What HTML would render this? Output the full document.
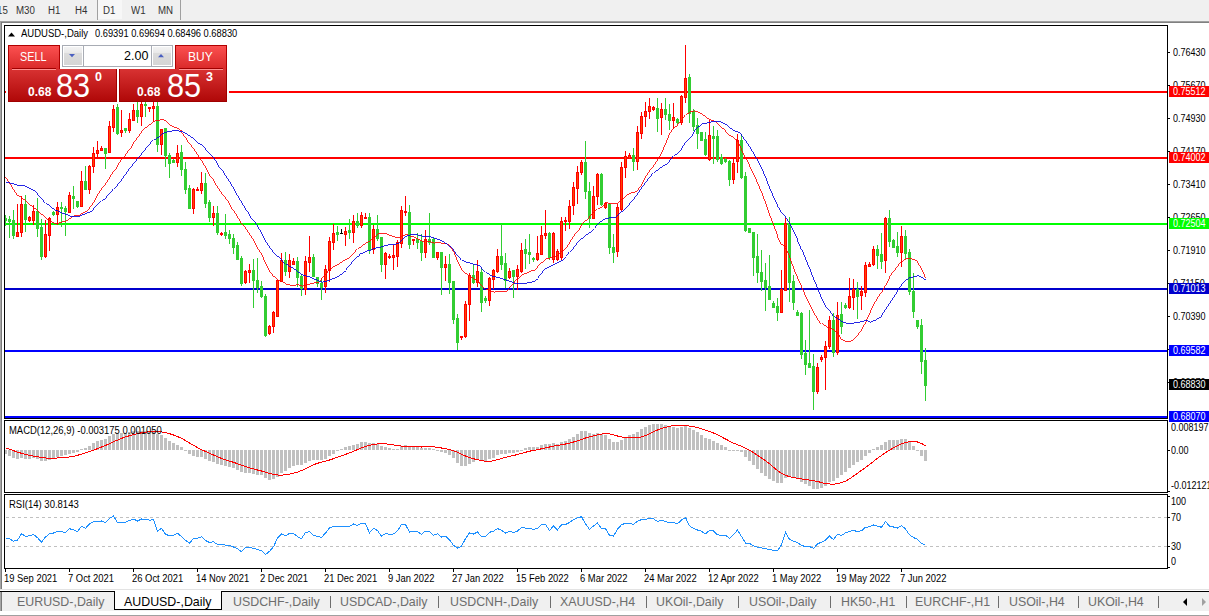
<!DOCTYPE html>
<html><head><meta charset="utf-8"><style>
*{margin:0;padding:0;box-sizing:border-box}
html,body{width:1209px;height:616px;overflow:hidden;background:#fff;font-family:"Liberation Sans",sans-serif}
.a{position:absolute;white-space:nowrap}
</style></head><body>
<div class="a" style="left:0;top:0;width:1209px;height:21px;background:#f0f0f0"></div>
<div class="a" style="left:98px;top:0;width:24px;height:19px;background:#f7f7f7"></div>
<div class="a" style="left:97px;top:0;width:1px;height:20px;background:#a0a0a0"></div>
<div class="a" style="left:180px;top:0;width:1px;height:20px;background:#a0a0a0"></div>
<div class="a" style="left:0;top:21px;width:1209px;height:1px;background:#a0a0a0"></div>
<div class="a" style="left:0;top:22px;width:1209px;height:1px;background:#808080"></div>
<div class="a" style="left:-3px;top:6px;font-size:10px;line-height:10px;color:#333;font-weight:normal;transform:scaleX(0.97);transform-origin:0 0;">15</div><div class="a" style="left:16px;top:6px;font-size:10px;line-height:10px;color:#333;font-weight:normal;transform:scaleX(0.97);transform-origin:0 0;">M30</div><div class="a" style="left:48px;top:6px;font-size:10px;line-height:10px;color:#333;font-weight:normal;transform:scaleX(0.97);transform-origin:0 0;">H1</div><div class="a" style="left:75px;top:6px;font-size:10px;line-height:10px;color:#333;font-weight:normal;transform:scaleX(0.97);transform-origin:0 0;">H4</div><div class="a" style="left:103px;top:6px;font-size:10px;line-height:10px;color:#333;font-weight:normal;transform:scaleX(0.97);transform-origin:0 0;">D1</div><div class="a" style="left:131px;top:6px;font-size:10px;line-height:10px;color:#333;font-weight:normal;transform:scaleX(0.97);transform-origin:0 0;">W1</div><div class="a" style="left:158px;top:6px;font-size:10px;line-height:10px;color:#333;font-weight:normal;transform:scaleX(0.97);transform-origin:0 0;">MN</div>
<div class="a" style="left:0;top:22px;width:1px;height:567px;background:#a6a6a6"></div><div class="a" style="left:1px;top:22px;width:1px;height:567px;background:#7a7a7a"></div>
<svg class="a" style="left:0;top:0" width="1209" height="616" shape-rendering="crispEdges">
<rect x="4" y="25" width="1164" height="1" fill="#000"/><rect x="4" y="418" width="1164" height="1" fill="#000"/><rect x="4" y="25" width="1" height="394" fill="#000"/><rect x="1167" y="25" width="1" height="394" fill="#000"/><rect x="4" y="420" width="1164" height="1" fill="#000"/><rect x="4" y="492" width="1164" height="1" fill="#000"/><rect x="4" y="420" width="1" height="73" fill="#000"/><rect x="1167" y="420" width="1" height="73" fill="#000"/><rect x="4" y="494" width="1164" height="1" fill="#000"/><rect x="4" y="568" width="1164" height="1" fill="#000"/><rect x="4" y="494" width="1" height="75" fill="#000"/><rect x="1167" y="494" width="1" height="75" fill="#000"/>
<g fill="#c0c0c0"><rect x="6" y="517" width="3" height="1"/><rect x="12" y="517" width="3" height="1"/><rect x="18" y="517" width="3" height="1"/><rect x="24" y="517" width="3" height="1"/><rect x="30" y="517" width="3" height="1"/><rect x="36" y="517" width="3" height="1"/><rect x="42" y="517" width="3" height="1"/><rect x="48" y="517" width="3" height="1"/><rect x="54" y="517" width="3" height="1"/><rect x="60" y="517" width="3" height="1"/><rect x="66" y="517" width="3" height="1"/><rect x="72" y="517" width="3" height="1"/><rect x="78" y="517" width="3" height="1"/><rect x="84" y="517" width="3" height="1"/><rect x="90" y="517" width="3" height="1"/><rect x="96" y="517" width="3" height="1"/><rect x="102" y="517" width="3" height="1"/><rect x="108" y="517" width="3" height="1"/><rect x="114" y="517" width="3" height="1"/><rect x="120" y="517" width="3" height="1"/><rect x="126" y="517" width="3" height="1"/><rect x="132" y="517" width="3" height="1"/><rect x="138" y="517" width="3" height="1"/><rect x="144" y="517" width="3" height="1"/><rect x="150" y="517" width="3" height="1"/><rect x="156" y="517" width="3" height="1"/><rect x="162" y="517" width="3" height="1"/><rect x="168" y="517" width="3" height="1"/><rect x="174" y="517" width="3" height="1"/><rect x="180" y="517" width="3" height="1"/><rect x="186" y="517" width="3" height="1"/><rect x="192" y="517" width="3" height="1"/><rect x="198" y="517" width="3" height="1"/><rect x="204" y="517" width="3" height="1"/><rect x="210" y="517" width="3" height="1"/><rect x="216" y="517" width="3" height="1"/><rect x="222" y="517" width="3" height="1"/><rect x="228" y="517" width="3" height="1"/><rect x="234" y="517" width="3" height="1"/><rect x="240" y="517" width="3" height="1"/><rect x="246" y="517" width="3" height="1"/><rect x="252" y="517" width="3" height="1"/><rect x="258" y="517" width="3" height="1"/><rect x="264" y="517" width="3" height="1"/><rect x="270" y="517" width="3" height="1"/><rect x="276" y="517" width="3" height="1"/><rect x="282" y="517" width="3" height="1"/><rect x="288" y="517" width="3" height="1"/><rect x="294" y="517" width="3" height="1"/><rect x="300" y="517" width="3" height="1"/><rect x="306" y="517" width="3" height="1"/><rect x="312" y="517" width="3" height="1"/><rect x="318" y="517" width="3" height="1"/><rect x="324" y="517" width="3" height="1"/><rect x="330" y="517" width="3" height="1"/><rect x="336" y="517" width="3" height="1"/><rect x="342" y="517" width="3" height="1"/><rect x="348" y="517" width="3" height="1"/><rect x="354" y="517" width="3" height="1"/><rect x="360" y="517" width="3" height="1"/><rect x="366" y="517" width="3" height="1"/><rect x="372" y="517" width="3" height="1"/><rect x="378" y="517" width="3" height="1"/><rect x="384" y="517" width="3" height="1"/><rect x="390" y="517" width="3" height="1"/><rect x="396" y="517" width="3" height="1"/><rect x="402" y="517" width="3" height="1"/><rect x="408" y="517" width="3" height="1"/><rect x="414" y="517" width="3" height="1"/><rect x="420" y="517" width="3" height="1"/><rect x="426" y="517" width="3" height="1"/><rect x="432" y="517" width="3" height="1"/><rect x="438" y="517" width="3" height="1"/><rect x="444" y="517" width="3" height="1"/><rect x="450" y="517" width="3" height="1"/><rect x="456" y="517" width="3" height="1"/><rect x="462" y="517" width="3" height="1"/><rect x="468" y="517" width="3" height="1"/><rect x="474" y="517" width="3" height="1"/><rect x="480" y="517" width="3" height="1"/><rect x="486" y="517" width="3" height="1"/><rect x="492" y="517" width="3" height="1"/><rect x="498" y="517" width="3" height="1"/><rect x="504" y="517" width="3" height="1"/><rect x="510" y="517" width="3" height="1"/><rect x="516" y="517" width="3" height="1"/><rect x="522" y="517" width="3" height="1"/><rect x="528" y="517" width="3" height="1"/><rect x="534" y="517" width="3" height="1"/><rect x="540" y="517" width="3" height="1"/><rect x="546" y="517" width="3" height="1"/><rect x="552" y="517" width="3" height="1"/><rect x="558" y="517" width="3" height="1"/><rect x="564" y="517" width="3" height="1"/><rect x="570" y="517" width="3" height="1"/><rect x="576" y="517" width="3" height="1"/><rect x="582" y="517" width="3" height="1"/><rect x="588" y="517" width="3" height="1"/><rect x="594" y="517" width="3" height="1"/><rect x="600" y="517" width="3" height="1"/><rect x="606" y="517" width="3" height="1"/><rect x="612" y="517" width="3" height="1"/><rect x="618" y="517" width="3" height="1"/><rect x="624" y="517" width="3" height="1"/><rect x="630" y="517" width="3" height="1"/><rect x="636" y="517" width="3" height="1"/><rect x="642" y="517" width="3" height="1"/><rect x="648" y="517" width="3" height="1"/><rect x="654" y="517" width="3" height="1"/><rect x="660" y="517" width="3" height="1"/><rect x="666" y="517" width="3" height="1"/><rect x="672" y="517" width="3" height="1"/><rect x="678" y="517" width="3" height="1"/><rect x="684" y="517" width="3" height="1"/><rect x="690" y="517" width="3" height="1"/><rect x="696" y="517" width="3" height="1"/><rect x="702" y="517" width="3" height="1"/><rect x="708" y="517" width="3" height="1"/><rect x="714" y="517" width="3" height="1"/><rect x="720" y="517" width="3" height="1"/><rect x="726" y="517" width="3" height="1"/><rect x="732" y="517" width="3" height="1"/><rect x="738" y="517" width="3" height="1"/><rect x="744" y="517" width="3" height="1"/><rect x="750" y="517" width="3" height="1"/><rect x="756" y="517" width="3" height="1"/><rect x="762" y="517" width="3" height="1"/><rect x="768" y="517" width="3" height="1"/><rect x="774" y="517" width="3" height="1"/><rect x="780" y="517" width="3" height="1"/><rect x="786" y="517" width="3" height="1"/><rect x="792" y="517" width="3" height="1"/><rect x="798" y="517" width="3" height="1"/><rect x="804" y="517" width="3" height="1"/><rect x="810" y="517" width="3" height="1"/><rect x="816" y="517" width="3" height="1"/><rect x="822" y="517" width="3" height="1"/><rect x="828" y="517" width="3" height="1"/><rect x="834" y="517" width="3" height="1"/><rect x="840" y="517" width="3" height="1"/><rect x="846" y="517" width="3" height="1"/><rect x="852" y="517" width="3" height="1"/><rect x="858" y="517" width="3" height="1"/><rect x="864" y="517" width="3" height="1"/><rect x="870" y="517" width="3" height="1"/><rect x="876" y="517" width="3" height="1"/><rect x="882" y="517" width="3" height="1"/><rect x="888" y="517" width="3" height="1"/><rect x="894" y="517" width="3" height="1"/><rect x="900" y="517" width="3" height="1"/><rect x="906" y="517" width="3" height="1"/><rect x="912" y="517" width="3" height="1"/><rect x="918" y="517" width="3" height="1"/><rect x="924" y="517" width="3" height="1"/><rect x="930" y="517" width="3" height="1"/><rect x="936" y="517" width="3" height="1"/><rect x="942" y="517" width="3" height="1"/><rect x="948" y="517" width="3" height="1"/><rect x="954" y="517" width="3" height="1"/><rect x="960" y="517" width="3" height="1"/><rect x="966" y="517" width="3" height="1"/><rect x="972" y="517" width="3" height="1"/><rect x="978" y="517" width="3" height="1"/><rect x="984" y="517" width="3" height="1"/><rect x="990" y="517" width="3" height="1"/><rect x="996" y="517" width="3" height="1"/><rect x="1002" y="517" width="3" height="1"/><rect x="1008" y="517" width="3" height="1"/><rect x="1014" y="517" width="3" height="1"/><rect x="1020" y="517" width="3" height="1"/><rect x="1026" y="517" width="3" height="1"/><rect x="1032" y="517" width="3" height="1"/><rect x="1038" y="517" width="3" height="1"/><rect x="1044" y="517" width="3" height="1"/><rect x="1050" y="517" width="3" height="1"/><rect x="1056" y="517" width="3" height="1"/><rect x="1062" y="517" width="3" height="1"/><rect x="1068" y="517" width="3" height="1"/><rect x="1074" y="517" width="3" height="1"/><rect x="1080" y="517" width="3" height="1"/><rect x="1086" y="517" width="3" height="1"/><rect x="1092" y="517" width="3" height="1"/><rect x="1098" y="517" width="3" height="1"/><rect x="1104" y="517" width="3" height="1"/><rect x="1110" y="517" width="3" height="1"/><rect x="1116" y="517" width="3" height="1"/><rect x="1122" y="517" width="3" height="1"/><rect x="1128" y="517" width="3" height="1"/><rect x="1134" y="517" width="3" height="1"/><rect x="1140" y="517" width="3" height="1"/><rect x="1146" y="517" width="3" height="1"/><rect x="1152" y="517" width="3" height="1"/><rect x="1158" y="517" width="3" height="1"/><rect x="1164" y="517" width="3" height="1"/><rect x="6" y="546" width="3" height="1"/><rect x="12" y="546" width="3" height="1"/><rect x="18" y="546" width="3" height="1"/><rect x="24" y="546" width="3" height="1"/><rect x="30" y="546" width="3" height="1"/><rect x="36" y="546" width="3" height="1"/><rect x="42" y="546" width="3" height="1"/><rect x="48" y="546" width="3" height="1"/><rect x="54" y="546" width="3" height="1"/><rect x="60" y="546" width="3" height="1"/><rect x="66" y="546" width="3" height="1"/><rect x="72" y="546" width="3" height="1"/><rect x="78" y="546" width="3" height="1"/><rect x="84" y="546" width="3" height="1"/><rect x="90" y="546" width="3" height="1"/><rect x="96" y="546" width="3" height="1"/><rect x="102" y="546" width="3" height="1"/><rect x="108" y="546" width="3" height="1"/><rect x="114" y="546" width="3" height="1"/><rect x="120" y="546" width="3" height="1"/><rect x="126" y="546" width="3" height="1"/><rect x="132" y="546" width="3" height="1"/><rect x="138" y="546" width="3" height="1"/><rect x="144" y="546" width="3" height="1"/><rect x="150" y="546" width="3" height="1"/><rect x="156" y="546" width="3" height="1"/><rect x="162" y="546" width="3" height="1"/><rect x="168" y="546" width="3" height="1"/><rect x="174" y="546" width="3" height="1"/><rect x="180" y="546" width="3" height="1"/><rect x="186" y="546" width="3" height="1"/><rect x="192" y="546" width="3" height="1"/><rect x="198" y="546" width="3" height="1"/><rect x="204" y="546" width="3" height="1"/><rect x="210" y="546" width="3" height="1"/><rect x="216" y="546" width="3" height="1"/><rect x="222" y="546" width="3" height="1"/><rect x="228" y="546" width="3" height="1"/><rect x="234" y="546" width="3" height="1"/><rect x="240" y="546" width="3" height="1"/><rect x="246" y="546" width="3" height="1"/><rect x="252" y="546" width="3" height="1"/><rect x="258" y="546" width="3" height="1"/><rect x="264" y="546" width="3" height="1"/><rect x="270" y="546" width="3" height="1"/><rect x="276" y="546" width="3" height="1"/><rect x="282" y="546" width="3" height="1"/><rect x="288" y="546" width="3" height="1"/><rect x="294" y="546" width="3" height="1"/><rect x="300" y="546" width="3" height="1"/><rect x="306" y="546" width="3" height="1"/><rect x="312" y="546" width="3" height="1"/><rect x="318" y="546" width="3" height="1"/><rect x="324" y="546" width="3" height="1"/><rect x="330" y="546" width="3" height="1"/><rect x="336" y="546" width="3" height="1"/><rect x="342" y="546" width="3" height="1"/><rect x="348" y="546" width="3" height="1"/><rect x="354" y="546" width="3" height="1"/><rect x="360" y="546" width="3" height="1"/><rect x="366" y="546" width="3" height="1"/><rect x="372" y="546" width="3" height="1"/><rect x="378" y="546" width="3" height="1"/><rect x="384" y="546" width="3" height="1"/><rect x="390" y="546" width="3" height="1"/><rect x="396" y="546" width="3" height="1"/><rect x="402" y="546" width="3" height="1"/><rect x="408" y="546" width="3" height="1"/><rect x="414" y="546" width="3" height="1"/><rect x="420" y="546" width="3" height="1"/><rect x="426" y="546" width="3" height="1"/><rect x="432" y="546" width="3" height="1"/><rect x="438" y="546" width="3" height="1"/><rect x="444" y="546" width="3" height="1"/><rect x="450" y="546" width="3" height="1"/><rect x="456" y="546" width="3" height="1"/><rect x="462" y="546" width="3" height="1"/><rect x="468" y="546" width="3" height="1"/><rect x="474" y="546" width="3" height="1"/><rect x="480" y="546" width="3" height="1"/><rect x="486" y="546" width="3" height="1"/><rect x="492" y="546" width="3" height="1"/><rect x="498" y="546" width="3" height="1"/><rect x="504" y="546" width="3" height="1"/><rect x="510" y="546" width="3" height="1"/><rect x="516" y="546" width="3" height="1"/><rect x="522" y="546" width="3" height="1"/><rect x="528" y="546" width="3" height="1"/><rect x="534" y="546" width="3" height="1"/><rect x="540" y="546" width="3" height="1"/><rect x="546" y="546" width="3" height="1"/><rect x="552" y="546" width="3" height="1"/><rect x="558" y="546" width="3" height="1"/><rect x="564" y="546" width="3" height="1"/><rect x="570" y="546" width="3" height="1"/><rect x="576" y="546" width="3" height="1"/><rect x="582" y="546" width="3" height="1"/><rect x="588" y="546" width="3" height="1"/><rect x="594" y="546" width="3" height="1"/><rect x="600" y="546" width="3" height="1"/><rect x="606" y="546" width="3" height="1"/><rect x="612" y="546" width="3" height="1"/><rect x="618" y="546" width="3" height="1"/><rect x="624" y="546" width="3" height="1"/><rect x="630" y="546" width="3" height="1"/><rect x="636" y="546" width="3" height="1"/><rect x="642" y="546" width="3" height="1"/><rect x="648" y="546" width="3" height="1"/><rect x="654" y="546" width="3" height="1"/><rect x="660" y="546" width="3" height="1"/><rect x="666" y="546" width="3" height="1"/><rect x="672" y="546" width="3" height="1"/><rect x="678" y="546" width="3" height="1"/><rect x="684" y="546" width="3" height="1"/><rect x="690" y="546" width="3" height="1"/><rect x="696" y="546" width="3" height="1"/><rect x="702" y="546" width="3" height="1"/><rect x="708" y="546" width="3" height="1"/><rect x="714" y="546" width="3" height="1"/><rect x="720" y="546" width="3" height="1"/><rect x="726" y="546" width="3" height="1"/><rect x="732" y="546" width="3" height="1"/><rect x="738" y="546" width="3" height="1"/><rect x="744" y="546" width="3" height="1"/><rect x="750" y="546" width="3" height="1"/><rect x="756" y="546" width="3" height="1"/><rect x="762" y="546" width="3" height="1"/><rect x="768" y="546" width="3" height="1"/><rect x="774" y="546" width="3" height="1"/><rect x="780" y="546" width="3" height="1"/><rect x="786" y="546" width="3" height="1"/><rect x="792" y="546" width="3" height="1"/><rect x="798" y="546" width="3" height="1"/><rect x="804" y="546" width="3" height="1"/><rect x="810" y="546" width="3" height="1"/><rect x="816" y="546" width="3" height="1"/><rect x="822" y="546" width="3" height="1"/><rect x="828" y="546" width="3" height="1"/><rect x="834" y="546" width="3" height="1"/><rect x="840" y="546" width="3" height="1"/><rect x="846" y="546" width="3" height="1"/><rect x="852" y="546" width="3" height="1"/><rect x="858" y="546" width="3" height="1"/><rect x="864" y="546" width="3" height="1"/><rect x="870" y="546" width="3" height="1"/><rect x="876" y="546" width="3" height="1"/><rect x="882" y="546" width="3" height="1"/><rect x="888" y="546" width="3" height="1"/><rect x="894" y="546" width="3" height="1"/><rect x="900" y="546" width="3" height="1"/><rect x="906" y="546" width="3" height="1"/><rect x="912" y="546" width="3" height="1"/><rect x="918" y="546" width="3" height="1"/><rect x="924" y="546" width="3" height="1"/><rect x="930" y="546" width="3" height="1"/><rect x="936" y="546" width="3" height="1"/><rect x="942" y="546" width="3" height="1"/><rect x="948" y="546" width="3" height="1"/><rect x="954" y="546" width="3" height="1"/><rect x="960" y="546" width="3" height="1"/><rect x="966" y="546" width="3" height="1"/><rect x="972" y="546" width="3" height="1"/><rect x="978" y="546" width="3" height="1"/><rect x="984" y="546" width="3" height="1"/><rect x="990" y="546" width="3" height="1"/><rect x="996" y="546" width="3" height="1"/><rect x="1002" y="546" width="3" height="1"/><rect x="1008" y="546" width="3" height="1"/><rect x="1014" y="546" width="3" height="1"/><rect x="1020" y="546" width="3" height="1"/><rect x="1026" y="546" width="3" height="1"/><rect x="1032" y="546" width="3" height="1"/><rect x="1038" y="546" width="3" height="1"/><rect x="1044" y="546" width="3" height="1"/><rect x="1050" y="546" width="3" height="1"/><rect x="1056" y="546" width="3" height="1"/><rect x="1062" y="546" width="3" height="1"/><rect x="1068" y="546" width="3" height="1"/><rect x="1074" y="546" width="3" height="1"/><rect x="1080" y="546" width="3" height="1"/><rect x="1086" y="546" width="3" height="1"/><rect x="1092" y="546" width="3" height="1"/><rect x="1098" y="546" width="3" height="1"/><rect x="1104" y="546" width="3" height="1"/><rect x="1110" y="546" width="3" height="1"/><rect x="1116" y="546" width="3" height="1"/><rect x="1122" y="546" width="3" height="1"/><rect x="1128" y="546" width="3" height="1"/><rect x="1134" y="546" width="3" height="1"/><rect x="1140" y="546" width="3" height="1"/><rect x="1146" y="546" width="3" height="1"/><rect x="1152" y="546" width="3" height="1"/><rect x="1158" y="546" width="3" height="1"/><rect x="1164" y="546" width="3" height="1"/></g>
<clipPath id="cc"><rect x="5" y="26" width="1162" height="392"/></clipPath>
<g clip-path="url(#cc)"><rect x="5" y="91" width="1162" height="2" fill="#ff0000"/><rect x="5" y="157" width="1162" height="2" fill="#ff0000"/><rect x="5" y="223" width="1162" height="2" fill="#00ff00"/><rect x="5" y="288" width="1162" height="2" fill="#0000cc"/><rect x="5" y="350" width="1162" height="2" fill="#0000ff"/><rect x="5" y="416" width="1162" height="2" fill="#0000ff"/>
<rect x="5" y="215" width="1" height="11" fill="#32cd32"/><rect x="4" y="218" width="3" height="3" fill="#32cd32"/><rect x="9" y="216" width="1" height="22" fill="#32cd32"/><rect x="8" y="219" width="3" height="3" fill="#32cd32"/><rect x="13" y="210" width="1" height="29" fill="#32cd32"/><rect x="12" y="220" width="3" height="16" fill="#32cd32"/><rect x="17" y="204" width="1" height="33" fill="#ff0000"/><rect x="16" y="232" width="3" height="5" fill="#ff0000"/><rect x="17" y="233" width="1" height="3" fill="#ff4500"/><rect x="21" y="196" width="1" height="41" fill="#ff0000"/><rect x="20" y="204" width="3" height="29" fill="#ff0000"/><rect x="21" y="205" width="1" height="27" fill="#ff4500"/><rect x="25" y="195" width="1" height="37" fill="#32cd32"/><rect x="24" y="204" width="3" height="16" fill="#32cd32"/><rect x="29" y="216" width="1" height="6" fill="#ff0000"/><rect x="28" y="217" width="3" height="4" fill="#ff0000"/><rect x="29" y="218" width="1" height="2" fill="#ff4500"/><rect x="33" y="205" width="1" height="20" fill="#ff0000"/><rect x="32" y="211" width="3" height="10" fill="#ff0000"/><rect x="33" y="212" width="1" height="8" fill="#ff4500"/><rect x="37" y="198" width="1" height="39" fill="#32cd32"/><rect x="36" y="211" width="3" height="18" fill="#32cd32"/><rect x="41" y="219" width="1" height="41" fill="#32cd32"/><rect x="40" y="227" width="3" height="30" fill="#32cd32"/><rect x="45" y="220" width="1" height="38" fill="#ff0000"/><rect x="44" y="234" width="3" height="23" fill="#ff0000"/><rect x="45" y="235" width="1" height="21" fill="#ff4500"/><rect x="49" y="217" width="1" height="34" fill="#ff0000"/><rect x="48" y="218" width="3" height="18" fill="#ff0000"/><rect x="49" y="219" width="1" height="16" fill="#ff4500"/><rect x="53" y="211" width="1" height="5" fill="#32cd32"/><rect x="52" y="212" width="3" height="3" fill="#32cd32"/><rect x="57" y="202" width="1" height="23" fill="#ff0000"/><rect x="56" y="207" width="3" height="8" fill="#ff0000"/><rect x="57" y="208" width="1" height="6" fill="#ff4500"/><rect x="61" y="202" width="1" height="25" fill="#32cd32"/><rect x="60" y="207" width="3" height="2" fill="#32cd32"/><rect x="65" y="206" width="1" height="30" fill="#32cd32"/><rect x="64" y="208" width="3" height="4" fill="#32cd32"/><rect x="69" y="192" width="1" height="21" fill="#ff0000"/><rect x="68" y="195" width="3" height="18" fill="#ff0000"/><rect x="69" y="196" width="1" height="16" fill="#ff4500"/><rect x="73" y="186" width="1" height="23" fill="#32cd32"/><rect x="72" y="196" width="3" height="3" fill="#32cd32"/><rect x="77" y="201" width="1" height="7" fill="#32cd32"/><rect x="76" y="201" width="3" height="6" fill="#32cd32"/><rect x="81" y="171" width="1" height="36" fill="#ff0000"/><rect x="80" y="181" width="3" height="26" fill="#ff0000"/><rect x="81" y="182" width="1" height="24" fill="#ff4500"/><rect x="85" y="166" width="1" height="24" fill="#32cd32"/><rect x="84" y="181" width="3" height="9" fill="#32cd32"/><rect x="89" y="165" width="1" height="29" fill="#ff0000"/><rect x="88" y="166" width="3" height="24" fill="#ff0000"/><rect x="89" y="167" width="1" height="22" fill="#ff4500"/><rect x="93" y="147" width="1" height="26" fill="#ff0000"/><rect x="92" y="153" width="3" height="14" fill="#ff0000"/><rect x="93" y="154" width="1" height="12" fill="#ff4500"/><rect x="97" y="141" width="1" height="17" fill="#ff0000"/><rect x="96" y="150" width="3" height="4" fill="#ff0000"/><rect x="97" y="151" width="1" height="2" fill="#ff4500"/><rect x="101" y="146" width="1" height="5" fill="#ff0000"/><rect x="100" y="148" width="3" height="3" fill="#ff0000"/><rect x="101" y="149" width="1" height="1" fill="#ff4500"/><rect x="105" y="148" width="1" height="21" fill="#32cd32"/><rect x="104" y="148" width="3" height="6" fill="#32cd32"/><rect x="109" y="121" width="1" height="32" fill="#ff0000"/><rect x="108" y="126" width="3" height="27" fill="#ff0000"/><rect x="109" y="127" width="1" height="25" fill="#ff4500"/><rect x="113" y="105" width="1" height="27" fill="#ff0000"/><rect x="112" y="109" width="3" height="19" fill="#ff0000"/><rect x="113" y="110" width="1" height="17" fill="#ff4500"/><rect x="117" y="104" width="1" height="31" fill="#32cd32"/><rect x="116" y="107" width="3" height="27" fill="#32cd32"/><rect x="121" y="110" width="1" height="27" fill="#ff0000"/><rect x="120" y="130" width="3" height="3" fill="#ff0000"/><rect x="121" y="131" width="1" height="1" fill="#ff4500"/><rect x="125" y="128" width="1" height="5" fill="#32cd32"/><rect x="124" y="128" width="3" height="3" fill="#32cd32"/><rect x="129" y="113" width="1" height="20" fill="#ff0000"/><rect x="128" y="119" width="3" height="12" fill="#ff0000"/><rect x="129" y="120" width="1" height="10" fill="#ff4500"/><rect x="133" y="104" width="1" height="17" fill="#ff0000"/><rect x="132" y="110" width="3" height="11" fill="#ff0000"/><rect x="133" y="111" width="1" height="9" fill="#ff4500"/><rect x="137" y="100" width="1" height="23" fill="#32cd32"/><rect x="136" y="110" width="3" height="7" fill="#32cd32"/><rect x="141" y="98" width="1" height="28" fill="#ff0000"/><rect x="140" y="104" width="3" height="13" fill="#ff0000"/><rect x="141" y="105" width="1" height="11" fill="#ff4500"/><rect x="145" y="100" width="1" height="17" fill="#32cd32"/><rect x="144" y="104" width="3" height="2" fill="#32cd32"/><rect x="149" y="107" width="1" height="5" fill="#ff0000"/><rect x="148" y="107" width="3" height="2" fill="#ff0000"/><rect x="153" y="102" width="1" height="20" fill="#ff0000"/><rect x="152" y="106" width="3" height="3" fill="#ff0000"/><rect x="153" y="107" width="1" height="1" fill="#ff4500"/><rect x="157" y="98" width="1" height="54" fill="#32cd32"/><rect x="156" y="106" width="3" height="39" fill="#32cd32"/><rect x="161" y="129" width="1" height="26" fill="#ff0000"/><rect x="160" y="129" width="3" height="16" fill="#ff0000"/><rect x="161" y="130" width="1" height="14" fill="#ff4500"/><rect x="165" y="128" width="1" height="39" fill="#32cd32"/><rect x="164" y="128" width="3" height="28" fill="#32cd32"/><rect x="169" y="153" width="1" height="25" fill="#32cd32"/><rect x="168" y="155" width="3" height="9" fill="#32cd32"/><rect x="173" y="159" width="1" height="4" fill="#32cd32"/><rect x="172" y="160" width="3" height="3" fill="#32cd32"/><rect x="177" y="145" width="1" height="22" fill="#ff0000"/><rect x="176" y="153" width="3" height="10" fill="#ff0000"/><rect x="177" y="154" width="1" height="8" fill="#ff4500"/><rect x="181" y="145" width="1" height="31" fill="#32cd32"/><rect x="180" y="152" width="3" height="18" fill="#32cd32"/><rect x="185" y="162" width="1" height="32" fill="#32cd32"/><rect x="184" y="169" width="3" height="21" fill="#32cd32"/><rect x="189" y="185" width="1" height="24" fill="#32cd32"/><rect x="188" y="188" width="3" height="21" fill="#32cd32"/><rect x="193" y="188" width="1" height="26" fill="#ff0000"/><rect x="192" y="189" width="3" height="20" fill="#ff0000"/><rect x="193" y="190" width="1" height="18" fill="#ff4500"/><rect x="197" y="187" width="1" height="4" fill="#ff0000"/><rect x="196" y="189" width="3" height="2" fill="#ff0000"/><rect x="201" y="172" width="1" height="22" fill="#ff0000"/><rect x="200" y="183" width="3" height="8" fill="#ff0000"/><rect x="201" y="184" width="1" height="6" fill="#ff4500"/><rect x="205" y="173" width="1" height="35" fill="#32cd32"/><rect x="204" y="183" width="3" height="21" fill="#32cd32"/><rect x="209" y="200" width="1" height="22" fill="#32cd32"/><rect x="208" y="202" width="3" height="16" fill="#32cd32"/><rect x="213" y="206" width="1" height="20" fill="#ff0000"/><rect x="212" y="213" width="3" height="5" fill="#ff0000"/><rect x="213" y="214" width="1" height="3" fill="#ff4500"/><rect x="217" y="206" width="1" height="29" fill="#32cd32"/><rect x="216" y="213" width="3" height="20" fill="#32cd32"/><rect x="221" y="232" width="1" height="4" fill="#ff0000"/><rect x="220" y="233" width="3" height="2" fill="#ff0000"/><rect x="225" y="214" width="1" height="25" fill="#32cd32"/><rect x="224" y="232" width="3" height="4" fill="#32cd32"/><rect x="229" y="230" width="1" height="14" fill="#32cd32"/><rect x="228" y="234" width="3" height="5" fill="#32cd32"/><rect x="233" y="234" width="1" height="20" fill="#32cd32"/><rect x="232" y="238" width="3" height="10" fill="#32cd32"/><rect x="237" y="242" width="1" height="18" fill="#32cd32"/><rect x="236" y="245" width="3" height="15" fill="#32cd32"/><rect x="241" y="256" width="1" height="30" fill="#32cd32"/><rect x="240" y="258" width="3" height="26" fill="#32cd32"/><rect x="245" y="270" width="1" height="14" fill="#ff0000"/><rect x="244" y="271" width="3" height="12" fill="#ff0000"/><rect x="245" y="272" width="1" height="10" fill="#ff4500"/><rect x="249" y="264" width="1" height="19" fill="#ff0000"/><rect x="248" y="270" width="3" height="3" fill="#ff0000"/><rect x="249" y="271" width="1" height="1" fill="#ff4500"/><rect x="253" y="259" width="1" height="49" fill="#32cd32"/><rect x="252" y="270" width="3" height="11" fill="#32cd32"/><rect x="257" y="258" width="1" height="35" fill="#32cd32"/><rect x="256" y="280" width="3" height="8" fill="#32cd32"/><rect x="261" y="281" width="1" height="17" fill="#32cd32"/><rect x="260" y="286" width="3" height="11" fill="#32cd32"/><rect x="265" y="294" width="1" height="43" fill="#32cd32"/><rect x="264" y="296" width="3" height="40" fill="#32cd32"/><rect x="269" y="325" width="1" height="10" fill="#ff0000"/><rect x="268" y="326" width="3" height="8" fill="#ff0000"/><rect x="269" y="327" width="1" height="6" fill="#ff4500"/><rect x="273" y="311" width="1" height="22" fill="#ff0000"/><rect x="272" y="312" width="3" height="15" fill="#ff0000"/><rect x="273" y="313" width="1" height="13" fill="#ff4500"/><rect x="277" y="280" width="1" height="37" fill="#ff0000"/><rect x="276" y="280" width="3" height="37" fill="#ff0000"/><rect x="277" y="281" width="1" height="35" fill="#ff4500"/><rect x="281" y="253" width="1" height="29" fill="#ff0000"/><rect x="280" y="260" width="3" height="22" fill="#ff0000"/><rect x="281" y="261" width="1" height="20" fill="#ff4500"/><rect x="285" y="252" width="1" height="24" fill="#32cd32"/><rect x="284" y="260" width="3" height="12" fill="#32cd32"/><rect x="289" y="254" width="1" height="24" fill="#ff0000"/><rect x="288" y="260" width="3" height="12" fill="#ff0000"/><rect x="289" y="261" width="1" height="10" fill="#ff4500"/><rect x="293" y="258" width="1" height="7" fill="#ff0000"/><rect x="292" y="261" width="3" height="4" fill="#ff0000"/><rect x="293" y="262" width="1" height="2" fill="#ff4500"/><rect x="297" y="257" width="1" height="30" fill="#32cd32"/><rect x="296" y="261" width="3" height="17" fill="#32cd32"/><rect x="301" y="274" width="1" height="22" fill="#32cd32"/><rect x="300" y="276" width="3" height="13" fill="#32cd32"/><rect x="305" y="256" width="1" height="39" fill="#ff0000"/><rect x="304" y="261" width="3" height="29" fill="#ff0000"/><rect x="305" y="262" width="1" height="27" fill="#ff4500"/><rect x="309" y="236" width="1" height="36" fill="#ff0000"/><rect x="308" y="257" width="3" height="6" fill="#ff0000"/><rect x="309" y="258" width="1" height="4" fill="#ff4500"/><rect x="313" y="254" width="1" height="23" fill="#32cd32"/><rect x="312" y="257" width="3" height="20" fill="#32cd32"/><rect x="317" y="277" width="1" height="10" fill="#32cd32"/><rect x="316" y="277" width="3" height="7" fill="#32cd32"/><rect x="321" y="278" width="1" height="22" fill="#32cd32"/><rect x="320" y="283" width="3" height="5" fill="#32cd32"/><rect x="325" y="265" width="1" height="28" fill="#ff0000"/><rect x="324" y="269" width="3" height="18" fill="#ff0000"/><rect x="325" y="270" width="1" height="16" fill="#ff4500"/><rect x="329" y="237" width="1" height="45" fill="#ff0000"/><rect x="328" y="241" width="3" height="30" fill="#ff0000"/><rect x="329" y="242" width="1" height="28" fill="#ff4500"/><rect x="333" y="224" width="1" height="26" fill="#ff0000"/><rect x="332" y="233" width="3" height="10" fill="#ff0000"/><rect x="333" y="234" width="1" height="8" fill="#ff4500"/><rect x="337" y="226" width="1" height="15" fill="#32cd32"/><rect x="336" y="232" width="3" height="3" fill="#32cd32"/><rect x="341" y="229" width="1" height="5" fill="#000"/><rect x="340" y="233" width="3" height="1" fill="#000"/><rect x="345" y="227" width="1" height="19" fill="#ff0000"/><rect x="344" y="231" width="3" height="4" fill="#ff0000"/><rect x="345" y="232" width="1" height="2" fill="#ff4500"/><rect x="349" y="219" width="1" height="20" fill="#32cd32"/><rect x="348" y="230" width="3" height="3" fill="#32cd32"/><rect x="353" y="215" width="1" height="28" fill="#ff0000"/><rect x="352" y="221" width="3" height="12" fill="#ff0000"/><rect x="353" y="222" width="1" height="10" fill="#ff4500"/><rect x="357" y="213" width="1" height="15" fill="#32cd32"/><rect x="356" y="221" width="3" height="5" fill="#32cd32"/><rect x="361" y="212" width="1" height="16" fill="#ff0000"/><rect x="360" y="215" width="3" height="11" fill="#ff0000"/><rect x="361" y="216" width="1" height="9" fill="#ff4500"/><rect x="365" y="213" width="1" height="6" fill="#ff0000"/><rect x="364" y="217" width="3" height="2" fill="#ff0000"/><rect x="369" y="213" width="1" height="41" fill="#32cd32"/><rect x="368" y="217" width="3" height="33" fill="#32cd32"/><rect x="373" y="225" width="1" height="29" fill="#ff0000"/><rect x="372" y="229" width="3" height="21" fill="#ff0000"/><rect x="373" y="230" width="1" height="19" fill="#ff4500"/><rect x="377" y="215" width="1" height="26" fill="#32cd32"/><rect x="376" y="229" width="3" height="10" fill="#32cd32"/><rect x="381" y="237" width="1" height="35" fill="#32cd32"/><rect x="380" y="237" width="3" height="28" fill="#32cd32"/><rect x="385" y="252" width="1" height="27" fill="#ff0000"/><rect x="384" y="253" width="3" height="12" fill="#ff0000"/><rect x="385" y="254" width="1" height="10" fill="#ff4500"/><rect x="389" y="254" width="1" height="5" fill="#ff0000"/><rect x="388" y="256" width="3" height="2" fill="#ff0000"/><rect x="393" y="245" width="1" height="25" fill="#ff0000"/><rect x="392" y="255" width="3" height="3" fill="#ff0000"/><rect x="393" y="256" width="1" height="1" fill="#ff4500"/><rect x="397" y="240" width="1" height="27" fill="#ff0000"/><rect x="396" y="242" width="3" height="15" fill="#ff0000"/><rect x="397" y="243" width="1" height="13" fill="#ff4500"/><rect x="401" y="206" width="1" height="42" fill="#ff0000"/><rect x="400" y="210" width="3" height="34" fill="#ff0000"/><rect x="401" y="211" width="1" height="32" fill="#ff4500"/><rect x="405" y="196" width="1" height="20" fill="#ff0000"/><rect x="404" y="211" width="3" height="2" fill="#ff0000"/><rect x="409" y="205" width="1" height="44" fill="#32cd32"/><rect x="408" y="212" width="3" height="33" fill="#32cd32"/><rect x="413" y="239" width="1" height="6" fill="#ff0000"/><rect x="412" y="239" width="3" height="2" fill="#ff0000"/><rect x="417" y="233" width="1" height="16" fill="#32cd32"/><rect x="416" y="239" width="3" height="4" fill="#32cd32"/><rect x="421" y="234" width="1" height="27" fill="#32cd32"/><rect x="420" y="241" width="3" height="12" fill="#32cd32"/><rect x="425" y="230" width="1" height="28" fill="#ff0000"/><rect x="424" y="239" width="3" height="14" fill="#ff0000"/><rect x="425" y="240" width="1" height="12" fill="#ff4500"/><rect x="429" y="213" width="1" height="32" fill="#32cd32"/><rect x="428" y="239" width="3" height="4" fill="#32cd32"/><rect x="433" y="238" width="1" height="20" fill="#32cd32"/><rect x="432" y="239" width="3" height="19" fill="#32cd32"/><rect x="437" y="252" width="1" height="8" fill="#ff0000"/><rect x="436" y="252" width="3" height="6" fill="#ff0000"/><rect x="437" y="253" width="1" height="4" fill="#ff4500"/><rect x="441" y="252" width="1" height="43" fill="#32cd32"/><rect x="440" y="252" width="3" height="16" fill="#32cd32"/><rect x="445" y="256" width="1" height="25" fill="#ff0000"/><rect x="444" y="264" width="3" height="4" fill="#ff0000"/><rect x="445" y="265" width="1" height="2" fill="#ff4500"/><rect x="449" y="254" width="1" height="40" fill="#32cd32"/><rect x="448" y="264" width="3" height="19" fill="#32cd32"/><rect x="453" y="281" width="1" height="43" fill="#32cd32"/><rect x="452" y="281" width="3" height="39" fill="#32cd32"/><rect x="457" y="314" width="1" height="36" fill="#32cd32"/><rect x="456" y="318" width="3" height="25" fill="#32cd32"/><rect x="461" y="336" width="1" height="4" fill="#ff0000"/><rect x="460" y="336" width="3" height="2" fill="#ff0000"/><rect x="465" y="301" width="1" height="37" fill="#ff0000"/><rect x="464" y="304" width="3" height="33" fill="#ff0000"/><rect x="465" y="305" width="1" height="31" fill="#ff4500"/><rect x="469" y="273" width="1" height="48" fill="#ff0000"/><rect x="468" y="275" width="3" height="30" fill="#ff0000"/><rect x="469" y="276" width="1" height="28" fill="#ff4500"/><rect x="473" y="264" width="1" height="20" fill="#32cd32"/><rect x="472" y="275" width="3" height="8" fill="#32cd32"/><rect x="477" y="260" width="1" height="27" fill="#ff0000"/><rect x="476" y="271" width="3" height="12" fill="#ff0000"/><rect x="477" y="272" width="1" height="10" fill="#ff4500"/><rect x="481" y="268" width="1" height="44" fill="#32cd32"/><rect x="480" y="272" width="3" height="31" fill="#32cd32"/><rect x="485" y="296" width="1" height="7" fill="#32cd32"/><rect x="484" y="298" width="3" height="3" fill="#32cd32"/><rect x="489" y="277" width="1" height="29" fill="#ff0000"/><rect x="488" y="278" width="3" height="23" fill="#ff0000"/><rect x="489" y="279" width="1" height="21" fill="#ff4500"/><rect x="493" y="269" width="1" height="20" fill="#ff0000"/><rect x="492" y="270" width="3" height="10" fill="#ff0000"/><rect x="493" y="271" width="1" height="8" fill="#ff4500"/><rect x="497" y="249" width="1" height="24" fill="#ff0000"/><rect x="496" y="256" width="3" height="16" fill="#ff0000"/><rect x="497" y="257" width="1" height="14" fill="#ff4500"/><rect x="501" y="224" width="1" height="46" fill="#32cd32"/><rect x="500" y="256" width="3" height="9" fill="#32cd32"/><rect x="505" y="253" width="1" height="35" fill="#32cd32"/><rect x="504" y="263" width="3" height="18" fill="#32cd32"/><rect x="509" y="268" width="1" height="11" fill="#ff0000"/><rect x="508" y="271" width="3" height="7" fill="#ff0000"/><rect x="509" y="272" width="1" height="5" fill="#ff4500"/><rect x="513" y="270" width="1" height="28" fill="#32cd32"/><rect x="512" y="270" width="3" height="7" fill="#32cd32"/><rect x="517" y="265" width="1" height="25" fill="#ff0000"/><rect x="516" y="269" width="3" height="8" fill="#ff0000"/><rect x="517" y="270" width="1" height="6" fill="#ff4500"/><rect x="521" y="243" width="1" height="30" fill="#ff0000"/><rect x="520" y="250" width="3" height="22" fill="#ff0000"/><rect x="521" y="251" width="1" height="20" fill="#ff4500"/><rect x="525" y="239" width="1" height="30" fill="#32cd32"/><rect x="524" y="249" width="3" height="5" fill="#32cd32"/><rect x="529" y="234" width="1" height="30" fill="#32cd32"/><rect x="528" y="252" width="3" height="3" fill="#32cd32"/><rect x="533" y="257" width="1" height="5" fill="#32cd32"/><rect x="532" y="258" width="3" height="2" fill="#32cd32"/><rect x="537" y="236" width="1" height="25" fill="#ff0000"/><rect x="536" y="253" width="3" height="7" fill="#ff0000"/><rect x="537" y="254" width="1" height="5" fill="#ff4500"/><rect x="541" y="226" width="1" height="29" fill="#ff0000"/><rect x="540" y="235" width="3" height="20" fill="#ff0000"/><rect x="541" y="236" width="1" height="18" fill="#ff4500"/><rect x="545" y="210" width="1" height="29" fill="#ff0000"/><rect x="544" y="233" width="3" height="3" fill="#ff0000"/><rect x="545" y="234" width="1" height="1" fill="#ff4500"/><rect x="549" y="232" width="1" height="28" fill="#32cd32"/><rect x="548" y="233" width="3" height="25" fill="#32cd32"/><rect x="553" y="232" width="1" height="31" fill="#ff0000"/><rect x="552" y="233" width="3" height="27" fill="#ff0000"/><rect x="553" y="234" width="1" height="25" fill="#ff4500"/><rect x="557" y="249" width="1" height="12" fill="#ff0000"/><rect x="556" y="251" width="3" height="9" fill="#ff0000"/><rect x="557" y="252" width="1" height="7" fill="#ff4500"/><rect x="561" y="217" width="1" height="43" fill="#ff0000"/><rect x="560" y="221" width="3" height="37" fill="#ff0000"/><rect x="561" y="222" width="1" height="35" fill="#ff4500"/><rect x="565" y="217" width="1" height="14" fill="#ff0000"/><rect x="564" y="220" width="3" height="2" fill="#ff0000"/><rect x="569" y="200" width="1" height="29" fill="#ff0000"/><rect x="568" y="206" width="3" height="16" fill="#ff0000"/><rect x="569" y="207" width="1" height="14" fill="#ff4500"/><rect x="573" y="182" width="1" height="33" fill="#ff0000"/><rect x="572" y="187" width="3" height="19" fill="#ff0000"/><rect x="573" y="188" width="1" height="17" fill="#ff4500"/><rect x="577" y="166" width="1" height="38" fill="#ff0000"/><rect x="576" y="172" width="3" height="17" fill="#ff0000"/><rect x="577" y="173" width="1" height="15" fill="#ff4500"/><rect x="581" y="160" width="1" height="15" fill="#ff0000"/><rect x="580" y="162" width="3" height="11" fill="#ff0000"/><rect x="581" y="163" width="1" height="9" fill="#ff4500"/><rect x="585" y="141" width="1" height="58" fill="#32cd32"/><rect x="584" y="162" width="3" height="30" fill="#32cd32"/><rect x="589" y="182" width="1" height="46" fill="#32cd32"/><rect x="588" y="191" width="3" height="28" fill="#32cd32"/><rect x="593" y="186" width="1" height="33" fill="#ff0000"/><rect x="592" y="196" width="3" height="23" fill="#ff0000"/><rect x="593" y="197" width="1" height="21" fill="#ff4500"/><rect x="597" y="173" width="1" height="32" fill="#ff0000"/><rect x="596" y="174" width="3" height="23" fill="#ff0000"/><rect x="597" y="175" width="1" height="21" fill="#ff4500"/><rect x="601" y="173" width="1" height="33" fill="#32cd32"/><rect x="600" y="174" width="3" height="31" fill="#32cd32"/><rect x="605" y="202" width="1" height="7" fill="#ff0000"/><rect x="604" y="203" width="3" height="5" fill="#ff0000"/><rect x="605" y="204" width="1" height="3" fill="#ff4500"/><rect x="609" y="203" width="1" height="51" fill="#32cd32"/><rect x="608" y="204" width="3" height="44" fill="#32cd32"/><rect x="613" y="234" width="1" height="29" fill="#32cd32"/><rect x="612" y="247" width="3" height="6" fill="#32cd32"/><rect x="617" y="204" width="1" height="53" fill="#ff0000"/><rect x="616" y="207" width="3" height="45" fill="#ff0000"/><rect x="617" y="208" width="1" height="43" fill="#ff4500"/><rect x="621" y="162" width="1" height="49" fill="#ff0000"/><rect x="620" y="167" width="3" height="43" fill="#ff0000"/><rect x="621" y="168" width="1" height="41" fill="#ff4500"/><rect x="625" y="151" width="1" height="27" fill="#ff0000"/><rect x="624" y="156" width="3" height="12" fill="#ff0000"/><rect x="625" y="157" width="1" height="10" fill="#ff4500"/><rect x="629" y="153" width="1" height="6" fill="#ff0000"/><rect x="628" y="155" width="3" height="4" fill="#ff0000"/><rect x="629" y="156" width="1" height="2" fill="#ff4500"/><rect x="633" y="148" width="1" height="23" fill="#32cd32"/><rect x="632" y="155" width="3" height="7" fill="#32cd32"/><rect x="637" y="126" width="1" height="44" fill="#ff0000"/><rect x="636" y="132" width="3" height="30" fill="#ff0000"/><rect x="637" y="133" width="1" height="28" fill="#ff4500"/><rect x="641" y="112" width="1" height="27" fill="#ff0000"/><rect x="640" y="116" width="3" height="18" fill="#ff0000"/><rect x="641" y="117" width="1" height="16" fill="#ff4500"/><rect x="645" y="102" width="1" height="25" fill="#ff0000"/><rect x="644" y="111" width="3" height="6" fill="#ff0000"/><rect x="645" y="112" width="1" height="4" fill="#ff4500"/><rect x="649" y="98" width="1" height="21" fill="#ff0000"/><rect x="648" y="106" width="3" height="6" fill="#ff0000"/><rect x="649" y="107" width="1" height="4" fill="#ff4500"/><rect x="653" y="106" width="1" height="5" fill="#ff0000"/><rect x="652" y="107" width="3" height="3" fill="#ff0000"/><rect x="653" y="108" width="1" height="1" fill="#ff4500"/><rect x="657" y="98" width="1" height="34" fill="#32cd32"/><rect x="656" y="108" width="3" height="11" fill="#32cd32"/><rect x="661" y="103" width="1" height="32" fill="#ff0000"/><rect x="660" y="109" width="3" height="9" fill="#ff0000"/><rect x="661" y="110" width="1" height="7" fill="#ff4500"/><rect x="665" y="98" width="1" height="22" fill="#32cd32"/><rect x="664" y="109" width="3" height="6" fill="#32cd32"/><rect x="669" y="104" width="1" height="26" fill="#32cd32"/><rect x="668" y="114" width="3" height="7" fill="#32cd32"/><rect x="673" y="103" width="1" height="26" fill="#ff0000"/><rect x="672" y="117" width="3" height="4" fill="#ff0000"/><rect x="673" y="118" width="1" height="2" fill="#ff4500"/><rect x="677" y="118" width="1" height="6" fill="#32cd32"/><rect x="676" y="119" width="3" height="4" fill="#32cd32"/><rect x="681" y="95" width="1" height="30" fill="#ff0000"/><rect x="680" y="96" width="3" height="27" fill="#ff0000"/><rect x="681" y="97" width="1" height="25" fill="#ff4500"/><rect x="685" y="45" width="1" height="58" fill="#ff0000"/><rect x="684" y="78" width="3" height="20" fill="#ff0000"/><rect x="685" y="79" width="1" height="18" fill="#ff4500"/><rect x="689" y="74" width="1" height="49" fill="#32cd32"/><rect x="688" y="77" width="3" height="37" fill="#32cd32"/><rect x="693" y="109" width="1" height="22" fill="#32cd32"/><rect x="692" y="111" width="3" height="16" fill="#32cd32"/><rect x="697" y="118" width="1" height="31" fill="#32cd32"/><rect x="696" y="125" width="3" height="9" fill="#32cd32"/><rect x="701" y="132" width="1" height="9" fill="#32cd32"/><rect x="700" y="132" width="3" height="9" fill="#32cd32"/><rect x="705" y="132" width="1" height="24" fill="#32cd32"/><rect x="704" y="139" width="3" height="16" fill="#32cd32"/><rect x="709" y="120" width="1" height="41" fill="#ff0000"/><rect x="708" y="135" width="3" height="25" fill="#ff0000"/><rect x="709" y="136" width="1" height="23" fill="#ff4500"/><rect x="713" y="126" width="1" height="38" fill="#32cd32"/><rect x="712" y="136" width="3" height="3" fill="#32cd32"/><rect x="717" y="130" width="1" height="32" fill="#32cd32"/><rect x="716" y="136" width="3" height="24" fill="#32cd32"/><rect x="721" y="154" width="1" height="11" fill="#32cd32"/><rect x="720" y="157" width="3" height="7" fill="#32cd32"/><rect x="725" y="158" width="1" height="5" fill="#32cd32"/><rect x="724" y="159" width="3" height="3" fill="#32cd32"/><rect x="729" y="160" width="1" height="26" fill="#32cd32"/><rect x="728" y="161" width="3" height="19" fill="#32cd32"/><rect x="733" y="159" width="1" height="25" fill="#ff0000"/><rect x="732" y="163" width="3" height="17" fill="#ff0000"/><rect x="733" y="164" width="1" height="15" fill="#ff4500"/><rect x="737" y="134" width="1" height="39" fill="#ff0000"/><rect x="736" y="140" width="3" height="22" fill="#ff0000"/><rect x="737" y="141" width="1" height="20" fill="#ff4500"/><rect x="741" y="134" width="1" height="45" fill="#32cd32"/><rect x="740" y="140" width="3" height="38" fill="#32cd32"/><rect x="745" y="172" width="1" height="60" fill="#32cd32"/><rect x="744" y="176" width="3" height="55" fill="#32cd32"/><rect x="749" y="228" width="1" height="5" fill="#32cd32"/><rect x="748" y="228" width="3" height="5" fill="#32cd32"/><rect x="753" y="232" width="1" height="44" fill="#32cd32"/><rect x="752" y="232" width="3" height="26" fill="#32cd32"/><rect x="757" y="234" width="1" height="49" fill="#32cd32"/><rect x="756" y="256" width="3" height="17" fill="#32cd32"/><rect x="761" y="250" width="1" height="41" fill="#32cd32"/><rect x="760" y="272" width="3" height="10" fill="#32cd32"/><rect x="765" y="263" width="1" height="48" fill="#32cd32"/><rect x="764" y="280" width="3" height="8" fill="#32cd32"/><rect x="769" y="255" width="1" height="45" fill="#32cd32"/><rect x="768" y="286" width="3" height="14" fill="#32cd32"/><rect x="773" y="301" width="1" height="7" fill="#32cd32"/><rect x="772" y="303" width="3" height="5" fill="#32cd32"/><rect x="777" y="298" width="1" height="23" fill="#32cd32"/><rect x="776" y="306" width="3" height="7" fill="#32cd32"/><rect x="781" y="270" width="1" height="43" fill="#ff0000"/><rect x="780" y="289" width="3" height="24" fill="#ff0000"/><rect x="781" y="290" width="1" height="22" fill="#ff4500"/><rect x="785" y="218" width="1" height="73" fill="#ff0000"/><rect x="784" y="223" width="3" height="68" fill="#ff0000"/><rect x="785" y="224" width="1" height="66" fill="#ff4500"/><rect x="789" y="217" width="1" height="85" fill="#32cd32"/><rect x="788" y="223" width="3" height="60" fill="#32cd32"/><rect x="793" y="275" width="1" height="35" fill="#32cd32"/><rect x="792" y="281" width="3" height="22" fill="#32cd32"/><rect x="797" y="310" width="1" height="6" fill="#32cd32"/><rect x="796" y="312" width="3" height="4" fill="#32cd32"/><rect x="801" y="312" width="1" height="47" fill="#32cd32"/><rect x="800" y="313" width="3" height="42" fill="#32cd32"/><rect x="805" y="340" width="1" height="35" fill="#32cd32"/><rect x="804" y="353" width="3" height="12" fill="#32cd32"/><rect x="809" y="310" width="1" height="57" fill="#32cd32"/><rect x="808" y="363" width="3" height="5" fill="#32cd32"/><rect x="813" y="354" width="1" height="56" fill="#32cd32"/><rect x="812" y="366" width="3" height="26" fill="#32cd32"/><rect x="817" y="363" width="1" height="31" fill="#ff0000"/><rect x="816" y="367" width="3" height="25" fill="#ff0000"/><rect x="817" y="368" width="1" height="23" fill="#ff4500"/><rect x="821" y="355" width="1" height="7" fill="#ff0000"/><rect x="820" y="357" width="3" height="3" fill="#ff0000"/><rect x="821" y="358" width="1" height="1" fill="#ff4500"/><rect x="825" y="341" width="1" height="49" fill="#ff0000"/><rect x="824" y="346" width="3" height="12" fill="#ff0000"/><rect x="825" y="347" width="1" height="10" fill="#ff4500"/><rect x="829" y="316" width="1" height="33" fill="#ff0000"/><rect x="828" y="320" width="3" height="27" fill="#ff0000"/><rect x="829" y="321" width="1" height="25" fill="#ff4500"/><rect x="833" y="313" width="1" height="44" fill="#32cd32"/><rect x="832" y="320" width="3" height="33" fill="#32cd32"/><rect x="837" y="302" width="1" height="53" fill="#ff0000"/><rect x="836" y="315" width="3" height="38" fill="#ff0000"/><rect x="837" y="316" width="1" height="36" fill="#ff4500"/><rect x="841" y="302" width="1" height="32" fill="#32cd32"/><rect x="840" y="314" width="3" height="13" fill="#32cd32"/><rect x="845" y="303" width="1" height="6" fill="#32cd32"/><rect x="844" y="305" width="3" height="3" fill="#32cd32"/><rect x="849" y="278" width="1" height="31" fill="#ff0000"/><rect x="848" y="296" width="3" height="12" fill="#ff0000"/><rect x="849" y="297" width="1" height="10" fill="#ff4500"/><rect x="853" y="279" width="1" height="31" fill="#ff0000"/><rect x="852" y="289" width="3" height="9" fill="#ff0000"/><rect x="853" y="290" width="1" height="7" fill="#ff4500"/><rect x="857" y="282" width="1" height="37" fill="#32cd32"/><rect x="856" y="289" width="3" height="8" fill="#32cd32"/><rect x="861" y="286" width="1" height="24" fill="#ff0000"/><rect x="860" y="291" width="3" height="5" fill="#ff0000"/><rect x="861" y="292" width="1" height="3" fill="#ff4500"/><rect x="865" y="262" width="1" height="35" fill="#ff0000"/><rect x="864" y="265" width="3" height="28" fill="#ff0000"/><rect x="865" y="266" width="1" height="26" fill="#ff4500"/><rect x="869" y="262" width="1" height="5" fill="#ff0000"/><rect x="868" y="264" width="3" height="3" fill="#ff0000"/><rect x="869" y="265" width="1" height="1" fill="#ff4500"/><rect x="873" y="246" width="1" height="20" fill="#ff0000"/><rect x="872" y="249" width="3" height="16" fill="#ff0000"/><rect x="873" y="250" width="1" height="14" fill="#ff4500"/><rect x="877" y="245" width="1" height="24" fill="#32cd32"/><rect x="876" y="249" width="3" height="7" fill="#32cd32"/><rect x="881" y="233" width="1" height="36" fill="#32cd32"/><rect x="880" y="254" width="3" height="8" fill="#32cd32"/><rect x="885" y="217" width="1" height="56" fill="#ff0000"/><rect x="884" y="218" width="3" height="43" fill="#ff0000"/><rect x="885" y="219" width="1" height="41" fill="#ff4500"/><rect x="889" y="210" width="1" height="37" fill="#32cd32"/><rect x="888" y="218" width="3" height="24" fill="#32cd32"/><rect x="893" y="239" width="1" height="9" fill="#32cd32"/><rect x="892" y="240" width="3" height="8" fill="#32cd32"/><rect x="897" y="232" width="1" height="25" fill="#32cd32"/><rect x="896" y="246" width="3" height="7" fill="#32cd32"/><rect x="901" y="226" width="1" height="41" fill="#ff0000"/><rect x="900" y="236" width="3" height="17" fill="#ff0000"/><rect x="901" y="237" width="1" height="15" fill="#ff4500"/><rect x="905" y="230" width="1" height="29" fill="#32cd32"/><rect x="904" y="236" width="3" height="18" fill="#32cd32"/><rect x="909" y="249" width="1" height="46" fill="#32cd32"/><rect x="908" y="252" width="3" height="40" fill="#32cd32"/><rect x="913" y="273" width="1" height="45" fill="#32cd32"/><rect x="912" y="291" width="3" height="21" fill="#32cd32"/><rect x="917" y="320" width="1" height="9" fill="#32cd32"/><rect x="916" y="320" width="3" height="7" fill="#32cd32"/><rect x="921" y="319" width="1" height="55" fill="#32cd32"/><rect x="920" y="325" width="3" height="37" fill="#32cd32"/><rect x="925" y="348" width="1" height="53" fill="#32cd32"/><rect x="924" y="360" width="3" height="26" fill="#32cd32"/></g>
<clipPath id="ch"><rect x="5" y="421" width="1162" height="71"/></clipPath>
<g clip-path="url(#ch)"><g fill="#c0c0c0"><rect x="4" y="450" width="3" height="4"/><rect x="8" y="450" width="3" height="6"/><rect x="12" y="450" width="3" height="8"/><rect x="16" y="450" width="3" height="9"/><rect x="20" y="450" width="3" height="8"/><rect x="24" y="450" width="3" height="9"/><rect x="28" y="450" width="3" height="9"/><rect x="32" y="450" width="3" height="8"/><rect x="36" y="450" width="3" height="9"/><rect x="40" y="450" width="3" height="11"/><rect x="44" y="450" width="3" height="11"/><rect x="48" y="450" width="3" height="10"/><rect x="52" y="450" width="3" height="9"/><rect x="56" y="450" width="3" height="7"/><rect x="60" y="450" width="3" height="6"/><rect x="64" y="450" width="3" height="5"/><rect x="68" y="450" width="3" height="4"/><rect x="72" y="450" width="3" height="3"/><rect x="76" y="450" width="3" height="2"/><rect x="80" y="449" width="3" height="1"/><rect x="84" y="448" width="3" height="2"/><rect x="88" y="446" width="3" height="4"/><rect x="92" y="443" width="3" height="7"/><rect x="96" y="441" width="3" height="9"/><rect x="100" y="440" width="3" height="10"/><rect x="104" y="439" width="3" height="11"/><rect x="108" y="436" width="3" height="14"/><rect x="112" y="434" width="3" height="16"/><rect x="116" y="433" width="3" height="17"/><rect x="120" y="433" width="3" height="17"/><rect x="124" y="433" width="3" height="17"/><rect x="128" y="432" width="3" height="18"/><rect x="132" y="431" width="3" height="19"/><rect x="136" y="431" width="3" height="19"/><rect x="140" y="431" width="3" height="19"/><rect x="144" y="431" width="3" height="19"/><rect x="148" y="431" width="3" height="19"/><rect x="152" y="431" width="3" height="19"/><rect x="156" y="434" width="3" height="16"/><rect x="160" y="435" width="3" height="15"/><rect x="164" y="438" width="3" height="12"/><rect x="168" y="441" width="3" height="9"/><rect x="172" y="443" width="3" height="7"/><rect x="176" y="445" width="3" height="5"/><rect x="180" y="447" width="3" height="3"/><rect x="184" y="450" width="3" height="1"/><rect x="188" y="450" width="3" height="4"/><rect x="192" y="450" width="3" height="6"/><rect x="196" y="450" width="3" height="7"/><rect x="200" y="450" width="3" height="7"/><rect x="204" y="450" width="3" height="9"/><rect x="208" y="450" width="3" height="11"/><rect x="212" y="450" width="3" height="12"/><rect x="216" y="450" width="3" height="14"/><rect x="220" y="450" width="3" height="15"/><rect x="224" y="450" width="3" height="16"/><rect x="228" y="450" width="3" height="17"/><rect x="232" y="450" width="3" height="18"/><rect x="236" y="450" width="3" height="20"/><rect x="240" y="450" width="3" height="22"/><rect x="244" y="450" width="3" height="23"/><rect x="248" y="450" width="3" height="23"/><rect x="252" y="450" width="3" height="24"/><rect x="256" y="450" width="3" height="25"/><rect x="260" y="450" width="3" height="25"/><rect x="264" y="450" width="3" height="28"/><rect x="268" y="450" width="3" height="30"/><rect x="272" y="450" width="3" height="29"/><rect x="276" y="450" width="3" height="27"/><rect x="280" y="450" width="3" height="23"/><rect x="284" y="450" width="3" height="21"/><rect x="288" y="450" width="3" height="18"/><rect x="292" y="450" width="3" height="16"/><rect x="296" y="450" width="3" height="15"/><rect x="300" y="450" width="3" height="15"/><rect x="304" y="450" width="3" height="13"/><rect x="308" y="450" width="3" height="11"/><rect x="312" y="450" width="3" height="10"/><rect x="316" y="450" width="3" height="10"/><rect x="320" y="450" width="3" height="10"/><rect x="324" y="450" width="3" height="9"/><rect x="328" y="450" width="3" height="6"/><rect x="332" y="450" width="3" height="4"/><rect x="336" y="450" width="3" height="1"/><rect x="340" y="449" width="3" height="1"/><rect x="344" y="447" width="3" height="3"/><rect x="348" y="446" width="3" height="4"/><rect x="352" y="445" width="3" height="5"/><rect x="356" y="444" width="3" height="6"/><rect x="360" y="442" width="3" height="8"/><rect x="364" y="442" width="3" height="8"/><rect x="368" y="443" width="3" height="7"/><rect x="372" y="443" width="3" height="7"/><rect x="376" y="444" width="3" height="6"/><rect x="380" y="446" width="3" height="4"/><rect x="384" y="447" width="3" height="3"/><rect x="388" y="448" width="3" height="2"/><rect x="392" y="449" width="3" height="1"/><rect x="396" y="449" width="3" height="1"/><rect x="400" y="446" width="3" height="4"/><rect x="404" y="445" width="3" height="5"/><rect x="408" y="446" width="3" height="4"/><rect x="412" y="446" width="3" height="4"/><rect x="416" y="447" width="3" height="3"/><rect x="420" y="448" width="3" height="2"/><rect x="424" y="448" width="3" height="2"/><rect x="428" y="448" width="3" height="2"/><rect x="432" y="449" width="3" height="1"/><rect x="436" y="450" width="3" height="1"/><rect x="440" y="450" width="3" height="2"/><rect x="444" y="450" width="3" height="3"/><rect x="448" y="450" width="3" height="5"/><rect x="452" y="450" width="3" height="8"/><rect x="456" y="450" width="3" height="13"/><rect x="460" y="450" width="3" height="16"/><rect x="464" y="450" width="3" height="16"/><rect x="468" y="450" width="3" height="14"/><rect x="472" y="450" width="3" height="12"/><rect x="476" y="450" width="3" height="10"/><rect x="480" y="450" width="3" height="11"/><rect x="484" y="450" width="3" height="11"/><rect x="488" y="450" width="3" height="9"/><rect x="492" y="450" width="3" height="8"/><rect x="496" y="450" width="3" height="5"/><rect x="500" y="450" width="3" height="4"/><rect x="504" y="450" width="3" height="4"/><rect x="508" y="450" width="3" height="3"/><rect x="512" y="450" width="3" height="3"/><rect x="516" y="450" width="3" height="2"/><rect x="520" y="450" width="3" height="1"/><rect x="524" y="448" width="3" height="2"/><rect x="528" y="447" width="3" height="3"/><rect x="532" y="447" width="3" height="3"/><rect x="536" y="447" width="3" height="3"/><rect x="540" y="445" width="3" height="5"/><rect x="544" y="444" width="3" height="6"/><rect x="548" y="444" width="3" height="6"/><rect x="552" y="443" width="3" height="7"/><rect x="556" y="444" width="3" height="6"/><rect x="560" y="442" width="3" height="8"/><rect x="564" y="441" width="3" height="9"/><rect x="568" y="439" width="3" height="11"/><rect x="572" y="437" width="3" height="13"/><rect x="576" y="434" width="3" height="16"/><rect x="580" y="431" width="3" height="19"/><rect x="584" y="431" width="3" height="19"/><rect x="588" y="433" width="3" height="17"/><rect x="592" y="434" width="3" height="16"/><rect x="596" y="433" width="3" height="17"/><rect x="600" y="434" width="3" height="16"/><rect x="604" y="435" width="3" height="15"/><rect x="608" y="439" width="3" height="11"/><rect x="612" y="442" width="3" height="8"/><rect x="616" y="442" width="3" height="8"/><rect x="620" y="440" width="3" height="10"/><rect x="624" y="437" width="3" height="13"/><rect x="628" y="435" width="3" height="15"/><rect x="632" y="434" width="3" height="16"/><rect x="636" y="432" width="3" height="18"/><rect x="640" y="429" width="3" height="21"/><rect x="644" y="427" width="3" height="23"/><rect x="648" y="425" width="3" height="25"/><rect x="652" y="424" width="3" height="26"/><rect x="656" y="424" width="3" height="26"/><rect x="660" y="424" width="3" height="26"/><rect x="664" y="425" width="3" height="25"/><rect x="668" y="426" width="3" height="24"/><rect x="672" y="427" width="3" height="23"/><rect x="676" y="428" width="3" height="22"/><rect x="680" y="427" width="3" height="23"/><rect x="684" y="426" width="3" height="24"/><rect x="688" y="428" width="3" height="22"/><rect x="692" y="430" width="3" height="20"/><rect x="696" y="432" width="3" height="18"/><rect x="700" y="435" width="3" height="15"/><rect x="704" y="438" width="3" height="12"/><rect x="708" y="439" width="3" height="11"/><rect x="712" y="441" width="3" height="9"/><rect x="716" y="443" width="3" height="7"/><rect x="720" y="445" width="3" height="5"/><rect x="724" y="447" width="3" height="3"/><rect x="728" y="450" width="3" height="1"/><rect x="732" y="450" width="3" height="1"/><rect x="736" y="450" width="3" height="1"/><rect x="740" y="450" width="3" height="2"/><rect x="744" y="450" width="3" height="7"/><rect x="748" y="450" width="3" height="11"/><rect x="752" y="450" width="3" height="15"/><rect x="756" y="450" width="3" height="19"/><rect x="760" y="450" width="3" height="23"/><rect x="764" y="450" width="3" height="26"/><rect x="768" y="450" width="3" height="29"/><rect x="772" y="450" width="3" height="31"/><rect x="776" y="450" width="3" height="33"/><rect x="780" y="450" width="3" height="33"/><rect x="784" y="450" width="3" height="28"/><rect x="788" y="450" width="3" height="27"/><rect x="792" y="450" width="3" height="28"/><rect x="796" y="450" width="3" height="29"/><rect x="800" y="450" width="3" height="32"/><rect x="804" y="450" width="3" height="34"/><rect x="808" y="450" width="3" height="36"/><rect x="812" y="450" width="3" height="39"/><rect x="816" y="450" width="3" height="39"/><rect x="820" y="450" width="3" height="38"/><rect x="824" y="450" width="3" height="36"/><rect x="828" y="450" width="3" height="32"/><rect x="832" y="450" width="3" height="31"/><rect x="836" y="450" width="3" height="28"/><rect x="840" y="450" width="3" height="25"/><rect x="844" y="450" width="3" height="22"/><rect x="848" y="450" width="3" height="18"/><rect x="852" y="450" width="3" height="15"/><rect x="856" y="450" width="3" height="12"/><rect x="860" y="450" width="3" height="10"/><rect x="864" y="450" width="3" height="6"/><rect x="868" y="450" width="3" height="3"/><rect x="872" y="449" width="3" height="1"/><rect x="876" y="447" width="3" height="3"/><rect x="880" y="445" width="3" height="5"/><rect x="884" y="442" width="3" height="8"/><rect x="888" y="440" width="3" height="10"/><rect x="892" y="440" width="3" height="10"/><rect x="896" y="440" width="3" height="10"/><rect x="900" y="439" width="3" height="11"/><rect x="904" y="439" width="3" height="11"/><rect x="908" y="442" width="3" height="8"/><rect x="912" y="446" width="3" height="4"/><rect x="916" y="450" width="3" height="1"/><rect x="920" y="450" width="3" height="6"/><rect x="924" y="450" width="3" height="11"/></g></g>
<rect x="1168" y="52" width="2" height="1" fill="#000"/><rect x="1168" y="85" width="2" height="1" fill="#000"/><rect x="1168" y="118" width="2" height="1" fill="#000"/><rect x="1168" y="151" width="2" height="1" fill="#000"/><rect x="1168" y="184" width="2" height="1" fill="#000"/><rect x="1168" y="217" width="2" height="1" fill="#000"/><rect x="1168" y="250" width="2" height="1" fill="#000"/><rect x="1168" y="283" width="2" height="1" fill="#000"/><rect x="1168" y="316" width="2" height="1" fill="#000"/><rect x="1168" y="349" width="2" height="1" fill="#000"/><rect x="1168" y="382" width="2" height="1" fill="#000"/><rect x="1168" y="450" width="2" height="1" fill="#000"/><rect x="1168" y="491" width="2" height="1" fill="#000"/><rect x="1168" y="496" width="2" height="1" fill="#000"/><rect x="1168" y="517" width="2" height="1" fill="#000"/><rect x="1168" y="546" width="2" height="1" fill="#000"/><rect x="1168" y="567" width="2" height="1" fill="#000"/><rect x="5" y="569" width="1" height="3" fill="#000"/><rect x="69" y="569" width="1" height="3" fill="#000"/><rect x="133" y="569" width="1" height="3" fill="#000"/><rect x="197" y="569" width="1" height="3" fill="#000"/><rect x="261" y="569" width="1" height="3" fill="#000"/><rect x="325" y="569" width="1" height="3" fill="#000"/><rect x="389" y="569" width="1" height="3" fill="#000"/><rect x="453" y="569" width="1" height="3" fill="#000"/><rect x="517" y="569" width="1" height="3" fill="#000"/><rect x="581" y="569" width="1" height="3" fill="#000"/><rect x="645" y="569" width="1" height="3" fill="#000"/><rect x="709" y="569" width="1" height="3" fill="#000"/><rect x="773" y="569" width="1" height="3" fill="#000"/><rect x="837" y="569" width="1" height="3" fill="#000"/><rect x="901" y="569" width="1" height="3" fill="#000"/>
</svg>
<svg class="a" style="left:0;top:0" width="1209" height="616" shape-rendering="crispEdges">
<clipPath id="cp"><rect x="5" y="26" width="1162" height="392"/></clipPath>
<clipPath id="cm"><rect x="5" y="421" width="1162" height="71"/></clipPath>
<clipPath id="cr"><rect x="5" y="495" width="1162" height="73"/></clipPath>
<g clip-path="url(#cp)"><polyline points="5.5,176.9 9.5,182.7 13.5,189.6 17.5,195.6 21.5,198.2 25.5,201.7 29.5,205.2 33.5,208.3 37.5,210.8 41.5,214.8 45.5,218.5 49.5,221.3 53.5,223.0 57.5,223.0 61.5,221.7 65.5,220.9 69.5,218.1 73.5,215.7 77.5,215.8 81.5,213.1 85.5,211.1 89.5,207.9 93.5,202.6 97.5,195.0 101.5,188.8 105.5,184.2 109.5,177.9 113.5,170.9 117.5,165.5 121.5,159.7 125.5,155.0 129.5,149.3 133.5,142.5 137.5,137.8 141.5,131.8 145.5,127.4 149.5,124.2 153.5,121.0 157.5,120.7 161.5,119.0 165.5,121.1 169.5,125.0 173.5,127.0 177.5,128.7 181.5,131.5 185.5,136.5 189.5,143.4 193.5,148.7 197.5,154.7 201.5,160.3 205.5,167.1 209.5,175.0 213.5,180.0 217.5,187.4 221.5,193.0 225.5,198.1 229.5,203.5 233.5,210.3 237.5,216.7 241.5,223.4 245.5,227.9 249.5,233.8 253.5,240.2 257.5,247.7 261.5,254.3 265.5,262.8 269.5,270.9 273.5,276.6 277.5,280.0 281.5,281.8 285.5,284.2 289.5,285.1 293.5,285.2 297.5,284.7 301.5,286.0 305.5,285.3 309.5,283.7 313.5,282.9 317.5,282.0 321.5,278.5 325.5,274.4 329.5,269.4 333.5,266.0 337.5,264.1 341.5,261.4 345.5,259.4 349.5,257.3 353.5,253.3 357.5,248.8 361.5,245.5 365.5,242.7 369.5,240.8 373.5,236.9 377.5,233.4 381.5,233.0 385.5,233.8 389.5,235.5 393.5,236.9 397.5,237.6 401.5,236.1 405.5,234.5 409.5,236.1 413.5,237.1 417.5,239.0 421.5,241.5 425.5,240.8 429.5,241.8 433.5,243.2 437.5,242.3 441.5,243.3 445.5,243.9 449.5,245.8 453.5,251.3 457.5,260.7 461.5,269.6 465.5,273.9 469.5,276.5 473.5,279.4 477.5,280.7 481.5,285.2 485.5,289.4 489.5,290.8 493.5,292.1 497.5,291.4 501.5,291.4 505.5,291.2 509.5,287.8 513.5,283.1 517.5,278.4 521.5,274.5 525.5,273.0 529.5,271.0 533.5,270.1 537.5,266.7 541.5,262.0 545.5,258.9 549.5,257.9 553.5,256.3 557.5,255.3 561.5,251.1 565.5,247.5 569.5,242.5 573.5,236.6 577.5,231.0 581.5,224.5 585.5,220.0 589.5,217.0 593.5,212.9 597.5,208.6 601.5,206.5 605.5,202.7 609.5,203.7 613.5,203.8 617.5,202.8 621.5,199.0 625.5,195.4 629.5,193.1 633.5,192.4 637.5,190.2 641.5,184.9 645.5,177.2 649.5,170.9 653.5,166.1 657.5,159.9 661.5,153.2 665.5,143.7 669.5,134.2 673.5,127.8 677.5,124.5 681.5,120.3 685.5,114.8 689.5,111.4 693.5,110.9 697.5,112.2 701.5,114.2 705.5,117.6 709.5,119.7 713.5,121.1 717.5,124.6 721.5,128.1 725.5,131.0 729.5,135.5 733.5,138.4 737.5,141.4 741.5,148.5 745.5,156.9 749.5,164.5 753.5,173.4 757.5,182.8 761.5,192.0 765.5,202.8 769.5,214.3 773.5,224.8 777.5,235.5 781.5,244.6 785.5,247.8 789.5,256.3 793.5,267.9 797.5,277.7 801.5,286.6 805.5,296.0 809.5,303.8 813.5,312.3 817.5,318.5 821.5,323.5 825.5,326.8 829.5,327.8 833.5,330.7 837.5,332.6 841.5,339.9 845.5,341.7 849.5,341.3 853.5,339.4 857.5,335.2 861.5,330.0 865.5,322.7 869.5,313.6 873.5,305.2 877.5,297.8 881.5,291.8 885.5,284.5 889.5,276.5 893.5,271.6 897.5,266.4 901.5,261.3 905.5,258.3 909.5,258.5 913.5,259.6 917.5,262.1 921.5,268.9 925.5,277.6" fill="none" stroke="#ff0000" stroke-width="0.85"/><polyline points="5.5,182.0 9.5,183.0 13.5,184.2 17.5,185.3 21.5,185.3 25.5,186.6 29.5,188.6 33.5,190.6 37.5,194.3 41.5,198.8 45.5,203.2 49.5,206.7 53.5,209.6 57.5,211.3 61.5,213.0 65.5,214.6 69.5,216.0 73.5,216.6 77.5,216.6 81.5,214.9 85.5,213.3 89.5,211.9 93.5,208.6 97.5,204.6 101.5,200.6 105.5,198.1 109.5,193.7 113.5,188.6 117.5,184.8 121.5,180.2 125.5,174.2 129.5,168.7 133.5,163.6 137.5,158.9 141.5,154.0 145.5,149.0 149.5,144.1 153.5,139.8 157.5,137.2 161.5,133.6 165.5,132.3 169.5,131.1 173.5,130.9 177.5,130.9 181.5,131.8 185.5,133.8 189.5,136.4 193.5,139.4 197.5,143.2 201.5,145.6 205.5,149.1 209.5,153.2 213.5,157.7 217.5,163.5 221.5,169.1 225.5,175.3 229.5,181.6 233.5,188.3 237.5,195.6 241.5,202.3 245.5,209.0 249.5,214.5 253.5,220.1 257.5,226.0 261.5,232.9 265.5,240.8 269.5,247.3 273.5,252.3 277.5,256.6 281.5,260.0 285.5,264.2 289.5,266.9 293.5,269.1 297.5,272.1 301.5,274.8 305.5,276.1 309.5,277.1 313.5,279.0 317.5,280.7 321.5,282.0 325.5,281.3 329.5,279.9 333.5,278.1 337.5,276.0 341.5,273.4 345.5,270.3 349.5,265.4 353.5,260.4 357.5,256.2 361.5,253.1 365.5,251.1 369.5,250.0 373.5,248.5 377.5,247.4 381.5,246.8 385.5,245.1 389.5,244.8 393.5,244.8 397.5,243.2 401.5,239.7 405.5,236.1 409.5,234.8 413.5,234.7 417.5,235.1 421.5,236.0 425.5,236.3 429.5,236.8 433.5,238.0 437.5,239.5 441.5,241.4 445.5,243.8 449.5,246.9 453.5,250.2 457.5,255.6 461.5,260.2 465.5,262.2 469.5,263.2 473.5,264.5 477.5,265.2 481.5,268.1 485.5,272.3 489.5,275.5 493.5,276.8 497.5,277.6 501.5,278.7 505.5,280.0 509.5,281.5 513.5,283.1 517.5,283.7 521.5,283.6 525.5,283.0 529.5,282.5 533.5,281.4 537.5,278.3 541.5,273.2 545.5,268.3 549.5,266.1 553.5,264.1 557.5,262.6 561.5,260.2 565.5,256.3 569.5,251.9 573.5,247.5 577.5,242.9 581.5,238.4 585.5,234.9 589.5,232.0 593.5,228.4 597.5,223.5 601.5,220.4 605.5,218.2 609.5,217.9 613.5,217.8 617.5,215.3 621.5,211.3 625.5,207.5 629.5,203.7 633.5,199.2 637.5,194.3 641.5,187.9 645.5,182.7 649.5,177.3 653.5,172.6 657.5,169.3 661.5,166.3 665.5,164.0 669.5,160.6 673.5,155.8 677.5,152.3 681.5,148.6 685.5,142.6 689.5,138.3 693.5,132.5 697.5,126.9 701.5,123.7 705.5,123.0 709.5,122.0 713.5,121.3 717.5,121.1 721.5,122.6 725.5,124.7 729.5,128.0 733.5,130.7 737.5,132.2 741.5,135.0 745.5,140.8 749.5,146.4 753.5,153.0 757.5,160.4 761.5,168.0 765.5,177.0 769.5,187.6 773.5,196.8 777.5,205.6 781.5,213.0 785.5,217.0 789.5,223.1 793.5,231.0 797.5,239.5 801.5,248.8 805.5,258.4 809.5,268.2 813.5,278.3 817.5,288.0 821.5,298.4 825.5,306.4 829.5,310.7 833.5,316.4 837.5,319.2 841.5,321.7 845.5,323.0 849.5,323.4 853.5,322.9 857.5,322.4 861.5,321.4 865.5,320.3 869.5,322.2 873.5,320.6 877.5,318.4 881.5,315.8 885.5,309.3 889.5,303.4 893.5,297.7 897.5,291.1 901.5,284.9 905.5,279.9 909.5,277.3 913.5,276.9 917.5,275.6 921.5,277.8 925.5,280.6" fill="none" stroke="#0000e0" stroke-width="0.85"/></g>
<g clip-path="url(#cm)"><polyline points="5.5,447.7 9.5,449.1 13.5,450.6 17.5,452.1 21.5,453.3 25.5,454.4 29.5,455.3 33.5,456.1 37.5,456.8 41.5,457.5 45.5,458.0 49.5,458.2 53.5,458.2 57.5,458.0 61.5,457.8 65.5,457.4 69.5,456.9 73.5,456.3 77.5,455.3 81.5,454.1 85.5,452.9 89.5,451.6 93.5,450.2 97.5,448.6 101.5,447.0 105.5,445.4 109.5,443.8 113.5,441.8 117.5,440.1 121.5,438.4 125.5,436.9 129.5,435.7 133.5,434.6 137.5,433.7 141.5,432.8 145.5,432.1 149.5,431.8 153.5,431.6 157.5,431.7 161.5,432.0 165.5,432.6 169.5,433.7 173.5,435.0 177.5,436.6 181.5,438.4 185.5,440.5 189.5,443.0 193.5,445.3 197.5,447.6 201.5,449.6 205.5,451.5 209.5,453.3 213.5,455.0 217.5,456.8 221.5,458.4 225.5,459.8 229.5,461.1 233.5,462.3 237.5,463.7 241.5,465.2 245.5,466.6 249.5,467.8 253.5,468.9 257.5,470.0 261.5,471.0 265.5,472.2 269.5,473.4 273.5,474.5 277.5,475.0 281.5,475.1 285.5,474.8 289.5,474.2 293.5,473.2 297.5,472.1 301.5,470.6 305.5,468.7 309.5,466.6 313.5,464.8 317.5,463.3 321.5,462.1 325.5,461.1 329.5,460.0 333.5,458.7 337.5,457.2 341.5,455.8 345.5,454.4 349.5,452.9 353.5,451.3 357.5,449.6 361.5,447.9 365.5,446.4 369.5,445.3 373.5,444.5 377.5,444.0 381.5,443.8 385.5,443.9 389.5,444.3 393.5,444.9 397.5,445.6 401.5,446.1 405.5,446.3 409.5,446.5 413.5,446.8 417.5,446.9 421.5,447.0 425.5,446.9 429.5,446.8 433.5,446.9 437.5,447.3 441.5,448.0 445.5,448.7 449.5,449.6 453.5,450.8 457.5,452.3 461.5,454.2 465.5,456.0 469.5,457.5 473.5,458.8 477.5,459.7 481.5,460.6 485.5,461.3 489.5,461.4 493.5,460.8 497.5,459.7 501.5,458.4 505.5,457.3 509.5,456.3 513.5,455.5 517.5,454.5 521.5,453.4 525.5,452.3 529.5,451.2 533.5,450.4 537.5,449.7 541.5,448.8 545.5,447.9 549.5,447.0 553.5,446.1 557.5,445.4 561.5,444.7 565.5,444.0 569.5,443.1 573.5,442.0 577.5,440.8 581.5,439.4 585.5,438.0 589.5,436.9 593.5,435.8 597.5,434.8 601.5,434.1 605.5,433.6 609.5,433.9 613.5,434.8 617.5,436.0 621.5,437.0 625.5,437.4 629.5,437.6 633.5,437.8 637.5,437.6 641.5,436.9 645.5,435.6 649.5,433.7 653.5,431.7 657.5,430.0 661.5,428.5 665.5,427.3 669.5,426.3 673.5,425.7 677.5,425.6 681.5,425.6 685.5,425.7 689.5,426.1 693.5,426.7 697.5,427.7 701.5,428.8 705.5,430.2 709.5,431.6 713.5,433.0 717.5,434.7 721.5,436.9 725.5,439.0 729.5,441.1 733.5,443.1 737.5,444.8 741.5,446.3 745.5,448.1 749.5,450.3 753.5,452.6 757.5,455.2 761.5,458.0 765.5,460.8 769.5,463.8 773.5,467.2 777.5,470.6 781.5,473.4 785.5,475.3 789.5,476.7 793.5,477.6 797.5,478.2 801.5,478.9 805.5,479.5 809.5,480.1 813.5,480.8 817.5,481.4 821.5,482.6 825.5,483.5 829.5,484.0 833.5,484.2 837.5,483.7 841.5,482.7 845.5,481.1 849.5,478.8 853.5,476.1 857.5,473.3 861.5,470.4 865.5,467.5 869.5,464.4 873.5,461.4 877.5,458.3 881.5,455.5 885.5,452.7 889.5,450.1 893.5,447.8 897.5,445.7 901.5,443.8 905.5,442.4 909.5,441.7 913.5,441.6 917.5,442.0 921.5,443.5 925.5,445.7" fill="none" stroke="#ff0000" stroke-width="1"/></g>
<g clip-path="url(#cr)"><polyline points="5.5,538.7 9.5,538.9 13.5,541.1 17.5,540.2 21.5,533.6 25.5,536.3 29.5,535.9 33.5,534.5 37.5,537.7 41.5,542.2 45.5,537.0 49.5,533.7 53.5,533.0 57.5,531.5 61.5,531.8 65.5,532.4 69.5,528.8 73.5,529.6 77.5,531.6 81.5,526.2 85.5,528.3 89.5,524.0 93.5,521.8 97.5,521.4 101.5,521.0 105.5,522.6 109.5,518.3 113.5,516.0 117.5,522.8 121.5,522.3 125.5,522.3 129.5,520.5 133.5,519.1 137.5,521.0 141.5,519.0 145.5,519.3 149.5,520.1 153.5,519.8 157.5,531.5 161.5,528.2 165.5,534.2 169.5,535.8 173.5,535.4 177.5,533.2 181.5,536.7 185.5,540.3 189.5,543.3 193.5,538.4 197.5,538.3 201.5,536.8 205.5,540.4 209.5,542.6 213.5,541.7 217.5,544.6 221.5,544.7 225.5,545.1 229.5,545.4 233.5,547.0 237.5,548.7 241.5,551.7 245.5,547.2 249.5,547.1 253.5,548.4 257.5,549.5 261.5,550.6 265.5,554.6 269.5,551.3 273.5,546.7 277.5,538.2 281.5,533.8 285.5,535.7 289.5,533.4 293.5,533.6 297.5,536.6 301.5,538.6 305.5,532.5 309.5,531.7 313.5,535.3 317.5,536.6 321.5,537.3 325.5,533.1 329.5,527.8 333.5,526.4 337.5,526.7 341.5,526.5 345.5,526.1 349.5,526.5 353.5,524.0 357.5,525.4 361.5,523.3 365.5,523.9 369.5,532.9 373.5,528.3 377.5,530.6 381.5,536.1 385.5,533.6 389.5,534.2 393.5,534.0 397.5,530.8 401.5,524.4 405.5,524.6 409.5,532.2 413.5,531.2 417.5,531.9 421.5,534.2 425.5,531.1 429.5,531.8 433.5,535.2 437.5,533.8 441.5,537.0 445.5,536.2 449.5,539.8 453.5,545.4 457.5,548.1 461.5,546.3 465.5,538.5 469.5,532.8 473.5,534.0 477.5,532.0 481.5,536.9 485.5,536.6 489.5,532.3 493.5,531.1 497.5,528.6 501.5,530.2 505.5,533.1 509.5,531.4 513.5,532.5 517.5,531.0 521.5,527.5 525.5,528.1 529.5,528.2 533.5,529.7 537.5,528.2 541.5,524.6 545.5,524.3 549.5,530.6 553.5,525.8 557.5,530.0 561.5,524.7 565.5,524.6 569.5,522.4 573.5,519.7 577.5,517.9 581.5,516.7 585.5,523.8 589.5,529.4 593.5,526.0 597.5,523.1 601.5,528.7 605.5,528.6 609.5,535.4 613.5,536.1 617.5,529.3 621.5,524.6 625.5,523.4 629.5,523.3 633.5,524.5 637.5,521.2 641.5,519.6 645.5,519.2 649.5,518.7 653.5,518.8 657.5,521.4 661.5,520.3 665.5,521.5 669.5,523.0 673.5,522.5 677.5,523.8 681.5,519.9 685.5,517.5 689.5,525.9 693.5,528.5 697.5,530.0 701.5,531.3 705.5,533.9 709.5,530.3 713.5,530.9 717.5,534.8 721.5,535.5 725.5,535.1 729.5,538.5 733.5,534.6 737.5,530.0 741.5,536.5 745.5,543.1 749.5,543.4 753.5,545.8 757.5,547.2 761.5,548.0 765.5,548.5 769.5,549.6 773.5,550.2 777.5,550.7 781.5,544.7 785.5,532.3 789.5,539.3 793.5,541.2 797.5,542.4 801.5,545.6 805.5,546.4 809.5,546.6 813.5,548.4 817.5,543.9 821.5,542.2 825.5,540.2 829.5,536.1 833.5,539.7 837.5,534.3 841.5,535.5 845.5,532.9 849.5,531.4 853.5,530.5 857.5,531.5 861.5,530.8 865.5,527.2 869.5,526.9 873.5,525.0 877.5,526.1 881.5,527.3 885.5,521.6 889.5,526.0 893.5,527.0 897.5,528.1 901.5,525.7 905.5,528.9 909.5,534.9 913.5,537.5 917.5,539.4 921.5,543.2 925.5,545.4" fill="none" stroke="#1e90ff" stroke-width="1"/></g>
</svg>
<div class="a" style="left:1173px;top:48px;font-size:10px;line-height:10px;color:#000;font-weight:normal;transform:scaleX(0.9);transform-origin:0 0;">0.76430</div><div class="a" style="left:1173px;top:81px;font-size:10px;line-height:10px;color:#000;font-weight:normal;transform:scaleX(0.9);transform-origin:0 0;">0.75670</div><div class="a" style="left:1173px;top:114px;font-size:10px;line-height:10px;color:#000;font-weight:normal;transform:scaleX(0.9);transform-origin:0 0;">0.74930</div><div class="a" style="left:1173px;top:147px;font-size:10px;line-height:10px;color:#000;font-weight:normal;transform:scaleX(0.9);transform-origin:0 0;">0.74170</div><div class="a" style="left:1173px;top:180px;font-size:10px;line-height:10px;color:#000;font-weight:normal;transform:scaleX(0.9);transform-origin:0 0;">0.73410</div><div class="a" style="left:1173px;top:213px;font-size:10px;line-height:10px;color:#000;font-weight:normal;transform:scaleX(0.9);transform-origin:0 0;">0.72650</div><div class="a" style="left:1173px;top:246px;font-size:10px;line-height:10px;color:#000;font-weight:normal;transform:scaleX(0.9);transform-origin:0 0;">0.71910</div><div class="a" style="left:1173px;top:279px;font-size:10px;line-height:10px;color:#000;font-weight:normal;transform:scaleX(0.9);transform-origin:0 0;">0.71150</div><div class="a" style="left:1173px;top:312px;font-size:10px;line-height:10px;color:#000;font-weight:normal;transform:scaleX(0.9);transform-origin:0 0;">0.70390</div><div class="a" style="left:1173px;top:345px;font-size:10px;line-height:10px;color:#000;font-weight:normal;transform:scaleX(0.9);transform-origin:0 0;">0.69630</div><div class="a" style="left:1173px;top:378px;font-size:10px;line-height:10px;color:#000;font-weight:normal;transform:scaleX(0.9);transform-origin:0 0;">0.68870</div><div class="a" style="left:1169px;top:86px;width:40px;height:11px;background:#ff0000"></div><div class="a" style="left:1173px;top:87px;font-size:10px;line-height:10px;color:#fff;font-weight:normal;transform:scaleX(0.9);transform-origin:0 0;">0.75512</div><div class="a" style="left:1169px;top:152px;width:40px;height:11px;background:#ff0000"></div><div class="a" style="left:1173px;top:153px;font-size:10px;line-height:10px;color:#fff;font-weight:normal;transform:scaleX(0.9);transform-origin:0 0;">0.74002</div><div class="a" style="left:1169px;top:218px;width:40px;height:11px;background:#00ff00"></div><div class="a" style="left:1173px;top:219px;font-size:10px;line-height:10px;color:#fff;font-weight:normal;transform:scaleX(0.9);transform-origin:0 0;">0.72504</div><div class="a" style="left:1169px;top:283px;width:40px;height:11px;background:#0000cc"></div><div class="a" style="left:1173px;top:284px;font-size:10px;line-height:10px;color:#fff;font-weight:normal;transform:scaleX(0.9);transform-origin:0 0;">0.71013</div><div class="a" style="left:1169px;top:345px;width:40px;height:11px;background:#0000ff"></div><div class="a" style="left:1173px;top:346px;font-size:10px;line-height:10px;color:#fff;font-weight:normal;transform:scaleX(0.9);transform-origin:0 0;">0.69582</div><div class="a" style="left:1169px;top:379px;width:40px;height:11px;background:#000000"></div><div class="a" style="left:1173px;top:380px;font-size:10px;line-height:10px;color:#fff;font-weight:normal;transform:scaleX(0.9);transform-origin:0 0;">0.68830</div><div class="a" style="left:1169px;top:411px;width:40px;height:11px;background:#0000ff"></div><div class="a" style="left:1173px;top:412px;font-size:10px;line-height:10px;color:#fff;font-weight:normal;transform:scaleX(0.9);transform-origin:0 0;">0.68070</div><div class="a" style="left:1171px;top:423px;font-size:10px;line-height:10px;color:#000;font-weight:normal;transform:scaleX(0.9);transform-origin:0 0;">0.008197</div><div class="a" style="left:1171px;top:446px;font-size:10px;line-height:10px;color:#000;font-weight:normal;transform:scaleX(0.9);transform-origin:0 0;">0.00</div><div class="a" style="left:1171px;top:481px;font-size:10px;line-height:10px;color:#000;font-weight:normal;transform:scaleX(0.9);transform-origin:0 0;">-0.012121</div><div class="a" style="left:1171px;top:497px;font-size:10px;line-height:10px;color:#000;font-weight:normal;transform:scaleX(0.9);transform-origin:0 0;">100</div><div class="a" style="left:1171px;top:513px;font-size:10px;line-height:10px;color:#000;font-weight:normal;transform:scaleX(0.9);transform-origin:0 0;">70</div><div class="a" style="left:1171px;top:542px;font-size:10px;line-height:10px;color:#000;font-weight:normal;transform:scaleX(0.9);transform-origin:0 0;">30</div><div class="a" style="left:1171px;top:557px;font-size:10px;line-height:10px;color:#000;font-weight:normal;transform:scaleX(0.9);transform-origin:0 0;">0</div><div class="a" style="left:4px;top:574px;font-size:10px;line-height:10px;color:#000;font-weight:normal;transform:scaleX(0.94);transform-origin:0 0;">19 Sep 2021</div><div class="a" style="left:68px;top:574px;font-size:10px;line-height:10px;color:#000;font-weight:normal;transform:scaleX(0.94);transform-origin:0 0;">7 Oct 2021</div><div class="a" style="left:132px;top:574px;font-size:10px;line-height:10px;color:#000;font-weight:normal;transform:scaleX(0.94);transform-origin:0 0;">26 Oct 2021</div><div class="a" style="left:196px;top:574px;font-size:10px;line-height:10px;color:#000;font-weight:normal;transform:scaleX(0.94);transform-origin:0 0;">14 Nov 2021</div><div class="a" style="left:260px;top:574px;font-size:10px;line-height:10px;color:#000;font-weight:normal;transform:scaleX(0.94);transform-origin:0 0;">2 Dec 2021</div><div class="a" style="left:324px;top:574px;font-size:10px;line-height:10px;color:#000;font-weight:normal;transform:scaleX(0.94);transform-origin:0 0;">21 Dec 2021</div><div class="a" style="left:388px;top:574px;font-size:10px;line-height:10px;color:#000;font-weight:normal;transform:scaleX(0.94);transform-origin:0 0;">9 Jan 2022</div><div class="a" style="left:452px;top:574px;font-size:10px;line-height:10px;color:#000;font-weight:normal;transform:scaleX(0.94);transform-origin:0 0;">27 Jan 2022</div><div class="a" style="left:516px;top:574px;font-size:10px;line-height:10px;color:#000;font-weight:normal;transform:scaleX(0.94);transform-origin:0 0;">15 Feb 2022</div><div class="a" style="left:580px;top:574px;font-size:10px;line-height:10px;color:#000;font-weight:normal;transform:scaleX(0.94);transform-origin:0 0;">6 Mar 2022</div><div class="a" style="left:644px;top:574px;font-size:10px;line-height:10px;color:#000;font-weight:normal;transform:scaleX(0.94);transform-origin:0 0;">24 Mar 2022</div><div class="a" style="left:708px;top:574px;font-size:10px;line-height:10px;color:#000;font-weight:normal;transform:scaleX(0.94);transform-origin:0 0;">12 Apr 2022</div><div class="a" style="left:772px;top:574px;font-size:10px;line-height:10px;color:#000;font-weight:normal;transform:scaleX(0.94);transform-origin:0 0;">1 May 2022</div><div class="a" style="left:836px;top:574px;font-size:10px;line-height:10px;color:#000;font-weight:normal;transform:scaleX(0.94);transform-origin:0 0;">19 May 2022</div><div class="a" style="left:900px;top:574px;font-size:10px;line-height:10px;color:#000;font-weight:normal;transform:scaleX(0.94);transform-origin:0 0;">7 Jun 2022</div><div class="a" style="left:9px;top:426px;font-size:10px;line-height:10px;color:#000;font-weight:normal;transform:scaleX(0.945);transform-origin:0 0;">MACD(12,26,9) -0.003175 0.001050</div><div class="a" style="left:9px;top:500px;font-size:10px;line-height:10px;color:#000;font-weight:normal;transform:scaleX(0.95);transform-origin:0 0;">RSI(14) 30.8143</div><div class="a" style="left:21px;top:29px;font-size:10px;line-height:10px;color:#000;font-weight:normal;transform:scaleX(0.95);transform-origin:0 0;">AUDUSD-,Daily</div><div class="a" style="left:95px;top:29px;font-size:10px;line-height:10px;color:#000;font-weight:normal;transform:scaleX(0.93);transform-origin:0 0;">0.69391 0.69694 0.68496 0.68830</div><svg class="a" style="left:8px;top:32px" width="8" height="5"><path d="M0 4.5 L3.5 0.5 L7 4.5Z" fill="#000"/></svg>

<div class="a" style="left:6px;top:44px;width:223px;height:58px;background:#fff"></div>
<div class="a" style="left:8px;top:45px;width:52px;height:25px;background:linear-gradient(#fb5050,#d82828);border:1px solid #b00000;border-bottom:none"></div>
<div class="a" style="left:8px;top:69px;width:109px;height:33px;background:linear-gradient(#d83232,#b00808);border:1px solid #a00000;border-top:none"></div>
<div class="a" style="left:12px;top:68px;width:44px;height:1px;background:#a00000"></div><div class="a" style="left:12px;top:69px;width:44px;height:1px;background:#ff9090"></div>
<div class="a" style="left:175px;top:45px;width:52px;height:25px;background:linear-gradient(#fb5050,#d82828);border:1px solid #b00000;border-bottom:none"></div>
<div class="a" style="left:119px;top:69px;width:108px;height:33px;background:linear-gradient(#d83232,#b00808);border:1px solid #a00000;border-top:none"></div>
<div class="a" style="left:179px;top:68px;width:44px;height:1px;background:#a00000"></div><div class="a" style="left:179px;top:69px;width:44px;height:1px;background:#ff9090"></div>
<div class="a" style="left:62px;top:45px;width:111px;height:22px;background:#fff;border:1px solid #a8acb4"></div>
<div class="a" style="left:83px;top:45px;width:1px;height:22px;background:#a8acb4"></div>
<div class="a" style="left:151px;top:45px;width:1px;height:22px;background:#a8acb4"></div>
<div class="a" style="left:64px;top:47px;width:18px;height:18px;background:linear-gradient(#f3f3f3,#e9e9e9 33%,#dcdcdc 34%,#d5d5d5)"></div>
<div class="a" style="left:153px;top:47px;width:18px;height:18px;background:linear-gradient(#f3f3f3,#e9e9e9 33%,#dcdcdc 34%,#d5d5d5)"></div>
<svg class="a" style="left:69px;top:54px" width="7" height="4"><path d="M0 0H6L3 3.2Z" fill="#4a5fc0"/></svg>
<svg class="a" style="left:158px;top:54px" width="7" height="4"><path d="M0 3.2H6L3 0Z" fill="#4a5fc0"/></svg>
<div class="a" style="left:20px;top:51px;font-size:12px;line-height:12px;color:#fff;font-weight:normal;transform:scaleX(0.9);transform-origin:0 0;">SELL</div>
<div class="a" style="left:188px;top:51px;font-size:12px;line-height:12px;color:#fff;font-weight:normal;">BUY</div>
<div class="a" style="left:124px;top:50px;font-size:12.5px;line-height:12.5px;color:#000;font-weight:normal;">2.00</div>
<div class="a" style="left:28px;top:86px;font-size:12px;line-height:12px;color:#fff;font-weight:bold;">0.68</div>
<div class="a" style="left:56px;top:69px;font-size:33px;line-height:33px;color:#fff;font-weight:normal;transform:scaleX(0.93);transform-origin:0 0;">83</div>
<div class="a" style="left:95px;top:71px;font-size:12.5px;line-height:12.5px;color:#fff;font-weight:bold;">0</div>
<div class="a" style="left:137px;top:86px;font-size:12px;line-height:12px;color:#fff;font-weight:bold;">0.68</div>
<div class="a" style="left:167px;top:69px;font-size:33px;line-height:33px;color:#fff;font-weight:normal;transform:scaleX(0.93);transform-origin:0 0;">85</div>
<div class="a" style="left:206px;top:71px;font-size:12.5px;line-height:12.5px;color:#fff;font-weight:bold;">3</div>

<div class="a" style="left:0;top:589px;width:1209px;height:1px;background:#e3e3e3"></div><div class="a" style="left:0;top:591px;width:1209px;height:1px;background:#000"></div><div class="a" style="left:2px;top:592px;width:1207px;height:19px;background:#f0f0f0"></div><div class="a" style="left:0;top:592px;width:1px;height:19px;background:#a6a6a6"></div><div class="a" style="left:1px;top:592px;width:1px;height:19px;background:#7a7a7a"></div><div class="a" style="left:0;top:615px;width:1209px;height:1px;background:#a0a0a0"></div><div class="a" style="left:114px;top:591px;width:108px;height:19px;background:#fff;border:1px solid #000;border-top:none"></div><div class="a" style="left:17px;top:596px;font-size:12.4px;line-height:12.4px;color:#6d6d6d;font-weight:normal;">EURUSD-,Daily</div><div class="a" style="left:124px;top:596px;font-size:12.4px;line-height:12.4px;color:#000;font-weight:normal;">AUDUSD-,Daily</div><div class="a" style="left:233px;top:596px;font-size:12.4px;line-height:12.4px;color:#6d6d6d;font-weight:normal;">USDCHF-,Daily</div><div class="a" style="left:340px;top:596px;font-size:12.4px;line-height:12.4px;color:#6d6d6d;font-weight:normal;">USDCAD-,Daily</div><div class="a" style="left:450px;top:596px;font-size:12.4px;line-height:12.4px;color:#6d6d6d;font-weight:normal;">USDCNH-,Daily</div><div class="a" style="left:560px;top:596px;font-size:12.4px;line-height:12.4px;color:#6d6d6d;font-weight:normal;">XAUUSD-,H4</div><div class="a" style="left:656px;top:596px;font-size:12.4px;line-height:12.4px;color:#6d6d6d;font-weight:normal;">UKOil-,Daily</div><div class="a" style="left:749px;top:596px;font-size:12.4px;line-height:12.4px;color:#6d6d6d;font-weight:normal;">USOil-,Daily</div><div class="a" style="left:841px;top:596px;font-size:12.4px;line-height:12.4px;color:#6d6d6d;font-weight:normal;">HK50-,H1</div><div class="a" style="left:915px;top:596px;font-size:12.4px;line-height:12.4px;color:#6d6d6d;font-weight:normal;">EURCHF-,H1</div><div class="a" style="left:1009px;top:596px;font-size:12.4px;line-height:12.4px;color:#6d6d6d;font-weight:normal;">USOil-,H4</div><div class="a" style="left:1088px;top:596px;font-size:12.4px;line-height:12.4px;color:#6d6d6d;font-weight:normal;">UKOil-,H4</div><div class="a" style="left:330px;top:596px;width:1px;height:12px;background:#6d6d6d"></div><div class="a" style="left:438px;top:596px;width:1px;height:12px;background:#6d6d6d"></div><div class="a" style="left:550px;top:596px;width:1px;height:12px;background:#6d6d6d"></div><div class="a" style="left:646px;top:596px;width:1px;height:12px;background:#6d6d6d"></div><div class="a" style="left:738px;top:596px;width:1px;height:12px;background:#6d6d6d"></div><div class="a" style="left:830px;top:596px;width:1px;height:12px;background:#6d6d6d"></div><div class="a" style="left:906px;top:596px;width:1px;height:12px;background:#6d6d6d"></div><div class="a" style="left:998px;top:596px;width:1px;height:12px;background:#6d6d6d"></div><div class="a" style="left:1078px;top:596px;width:1px;height:12px;background:#6d6d6d"></div><div class="a" style="left:1158px;top:596px;width:1px;height:12px;background:#6d6d6d"></div><svg class="a" style="left:1183px;top:598px" width="6" height="8"><path d="M4 0V8L0 4Z" fill="#000"/></svg><svg class="a" style="left:1202px;top:598px" width="6" height="8"><path d="M0 0V8L4 4Z" fill="#a0a0a0"/></svg>
</body></html>
